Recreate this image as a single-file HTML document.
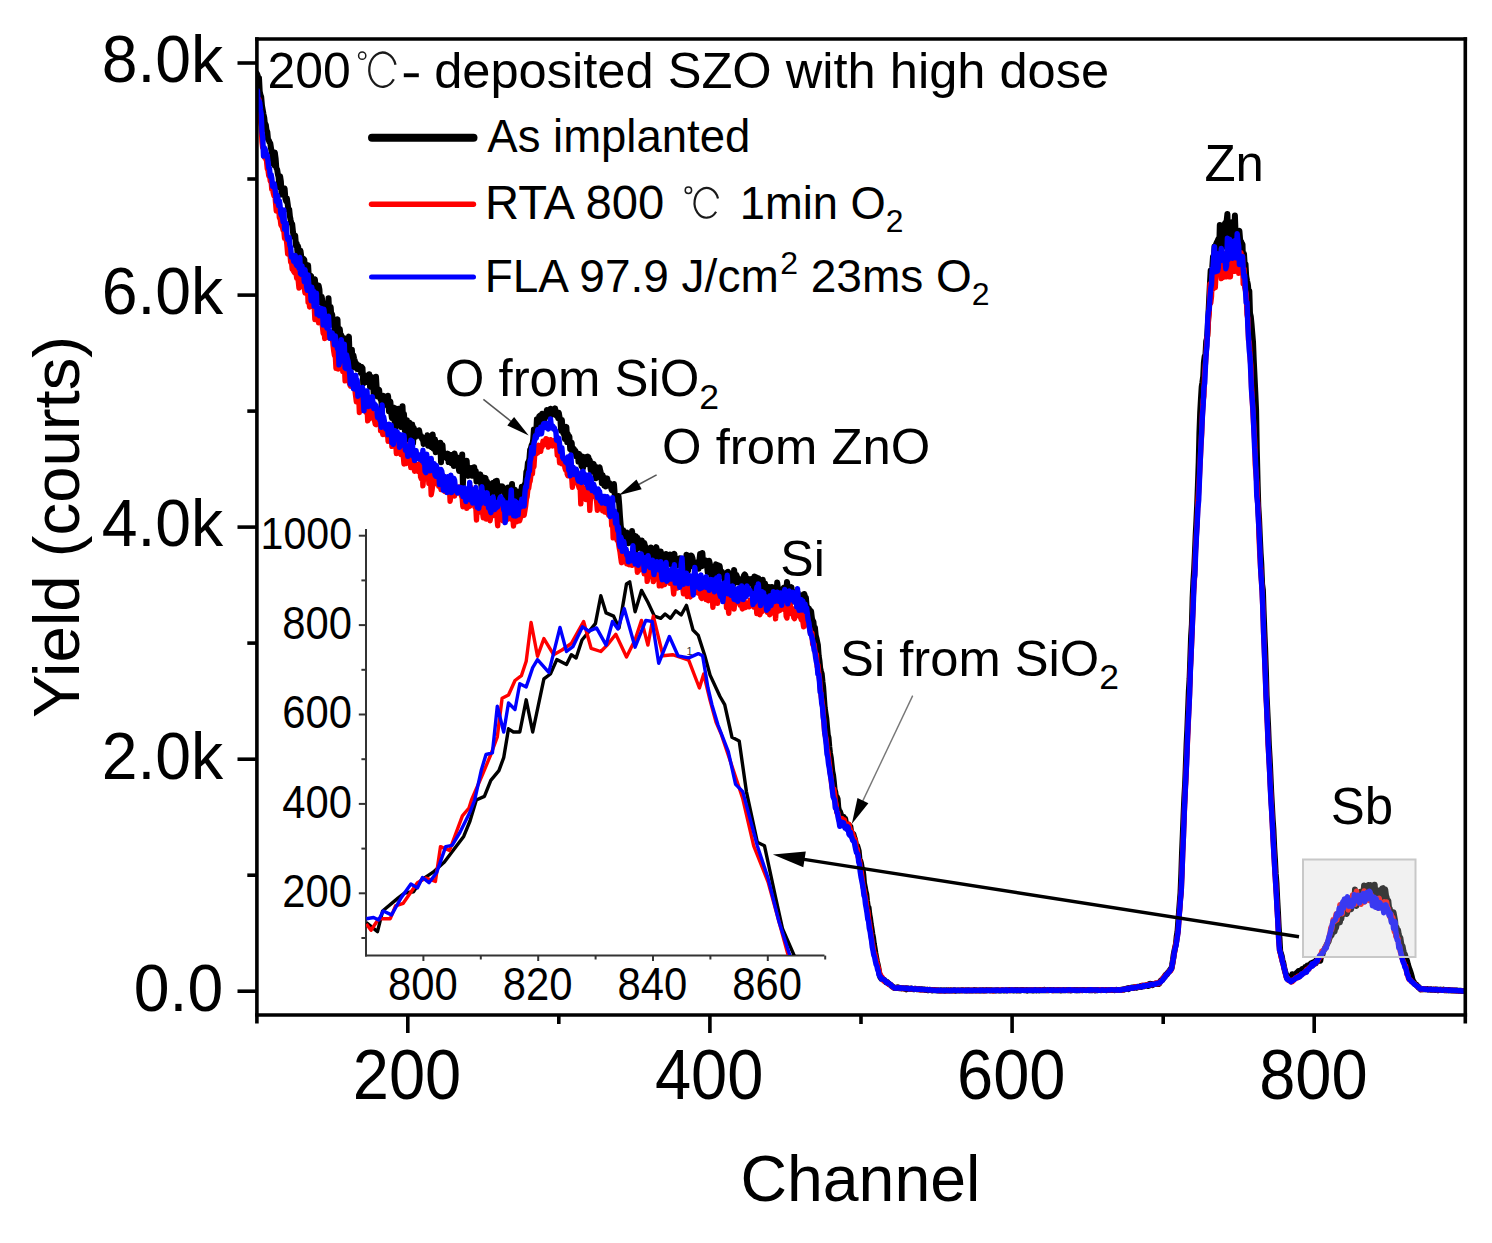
<!DOCTYPE html>
<html><head><meta charset="utf-8"><title>RBS spectra</title>
<style>html,body{margin:0;padding:0;background:#fff;} body{width:1492px;height:1243px;overflow:hidden;font-family:"Liberation Sans", sans-serif;}</style>
</head><body>
<svg width="1492" height="1243" viewBox="0 0 1492 1243" font-family="Liberation Sans" style="display:block"><rect width="1492" height="1243" fill="#fff"/><defs><clipPath id="cp"><rect x="257" y="40" width="1207" height="973"/></clipPath><clipPath id="cpi"><rect x="366" y="520" width="460" height="435"/></clipPath></defs><g clip-path="url(#cp)" fill="none" stroke-linejoin="round" stroke-linecap="round"><polyline points="256.7,73.3 257.5,75.0 258.2,78.3 259.0,77.8 259.7,91.4 260.5,95.1 261.2,96.9 262.0,105.9 262.7,109.8 263.5,114.3 264.3,118.0 265.0,124.7 265.8,124.6 266.5,130.0 267.3,131.9 268.0,139.3 268.8,140.3 269.5,142.2 270.3,143.4 271.1,148.7 271.8,152.9 272.6,154.9 273.3,163.7 274.1,165.1 274.8,152.5 275.6,158.3 276.3,167.8 277.1,169.3 277.9,174.4 278.6,176.9 279.4,187.3 280.1,176.3 280.9,181.8 281.6,194.5 282.4,191.0 283.1,193.6 283.9,191.0 284.6,188.5 285.4,198.8 286.2,201.2 286.9,198.5 287.7,204.1 288.4,210.0 289.2,209.4 289.9,216.3 290.7,220.4 291.4,223.3 292.2,224.1 293.0,232.2 293.7,236.8 294.5,237.4 295.2,235.5 296.0,245.7 296.7,243.3 297.5,252.8 298.2,246.6 299.0,257.5 299.8,254.9 300.5,250.8 301.3,256.9 302.0,260.3 302.8,263.1 303.5,258.7 304.3,259.8 305.0,267.8 305.8,266.2 306.6,271.4 307.3,275.8 308.1,265.3 308.8,276.6 309.6,283.3 310.3,277.1 311.1,275.9 311.8,285.5 312.6,284.3 313.4,289.2 314.1,284.0 314.9,279.3 315.6,288.2 316.4,287.8 317.1,296.0 317.9,294.2 318.6,285.4 319.4,289.3 320.2,302.5 320.9,302.8 321.7,296.7 322.4,301.7 323.2,305.6 323.9,307.0 324.7,310.8 325.4,308.4 326.2,307.6 326.9,307.9 327.7,317.2 328.5,298.2 329.2,312.4 330.0,314.8 330.7,307.0 331.5,319.2 332.2,314.4 333.0,325.1 333.7,320.3 334.5,326.5 335.3,331.5 336.0,327.9 336.8,321.7 337.5,319.3 338.3,340.9 339.0,331.0 339.8,329.1 340.5,335.7 341.3,335.2 342.1,343.1 342.8,339.7 343.6,341.1 344.3,338.2 345.1,347.0 345.8,339.4 346.6,351.2 347.3,357.8 348.1,340.8 348.9,336.6 349.6,356.7 350.4,369.7 351.1,349.8 351.9,349.8 352.6,362.3 353.4,355.2 354.1,358.6 354.9,361.0 355.7,367.7 356.4,363.6 357.2,369.1 357.9,367.9 358.7,365.4 359.4,369.5 360.2,366.5 360.9,373.0 361.7,367.0 362.5,368.0 363.2,383.8 364.0,375.6 364.7,376.4 365.5,380.4 366.2,375.7 367.0,377.6 367.7,382.2 368.5,382.1 369.3,374.3 370.0,386.8 370.8,379.2 371.5,377.2 372.3,379.0 373.0,383.0 373.8,395.9 374.5,380.5 375.3,389.3 376.0,376.8 376.8,390.3 377.6,396.6 378.3,391.0 379.1,389.7 379.8,395.7 380.6,399.4 381.3,400.2 382.1,408.8 382.8,399.6 383.6,395.9 384.4,399.7 385.1,401.0 385.9,403.0 386.6,403.2 387.4,405.4 388.1,395.8 388.9,411.2 389.6,404.1 390.4,401.7 391.2,413.1 391.9,418.0 392.7,414.3 393.4,413.2 394.2,407.7 394.9,430.3 395.7,419.6 396.4,408.8 397.2,411.7 398.0,417.4 398.7,408.8 399.5,419.5 400.2,416.7 401.0,427.0 401.7,426.3 402.5,406.2 403.2,422.6 404.0,414.0 404.8,430.3 405.5,425.7 406.3,428.6 407.0,420.3 407.8,437.4 408.5,439.3 409.3,422.6 410.0,431.5 410.8,426.4 411.6,430.8 412.3,424.6 413.1,443.1 413.8,427.8 414.6,432.1 415.3,437.1 416.1,431.1 416.8,433.9 417.6,432.6 418.4,435.5 419.1,430.2 419.9,434.8 420.6,436.6 421.4,436.4 422.1,439.1 422.9,437.6 423.6,444.0 424.4,438.5 425.1,440.0 425.9,437.5 426.7,438.8 427.4,435.2 428.2,445.7 428.9,436.9 429.7,439.6 430.4,446.3 431.2,447.0 431.9,443.0 432.7,434.5 433.5,448.6 434.2,448.2 435.0,439.4 435.7,452.2 436.5,444.6 437.2,442.9 438.0,450.3 438.7,449.4 439.5,452.1 440.3,442.7 441.0,462.2 441.8,449.5 442.5,444.9 443.3,457.5 444.0,452.7 444.8,457.1 445.5,454.0 446.3,456.2 447.1,458.5 447.8,453.6 448.6,462.1 449.3,456.4 450.1,454.8 450.8,460.6 451.6,463.3 452.3,460.2 453.1,457.3 453.9,466.1 454.6,453.6 455.4,458.2 456.1,464.6 456.9,457.3 457.6,465.4 458.4,465.4 459.1,471.0 459.9,461.5 460.7,463.5 461.4,469.2 462.2,454.4 462.9,485.2 463.7,464.9 464.4,465.2 465.2,474.2 465.9,469.8 466.7,460.7 467.4,474.3 468.2,475.9 469.0,469.3 469.7,470.6 470.5,475.2 471.2,468.1 472.0,475.8 472.7,475.0 473.5,470.7 474.2,467.2 475.0,474.0 475.8,470.9 476.5,481.5 477.3,477.4 478.0,481.3 478.8,478.3 479.5,479.5 480.3,474.4 481.0,482.7 481.8,489.2 482.6,478.4 483.3,477.4 484.1,480.3 484.8,479.0 485.6,478.3 486.3,483.4 487.1,481.6 487.8,491.4 488.6,484.1 489.4,486.4 490.1,490.2 490.9,484.0 491.6,493.8 492.4,483.3 493.1,482.8 493.9,485.7 494.6,487.5 495.4,481.2 496.2,489.0 496.9,480.8 497.7,497.5 498.4,490.0 499.2,487.3 499.9,486.2 500.7,489.3 501.4,490.5 502.2,486.4 503.0,487.4 503.7,491.6 504.5,490.2 505.2,498.3 506.0,499.6 506.7,494.0 507.5,496.7 508.2,487.4 509.0,498.2 509.8,495.0 510.5,498.1 511.3,504.3 512.0,484.0 512.8,497.8 513.5,490.9 514.3,500.1 515.0,489.7 515.8,493.9 516.5,497.2 517.3,498.8 518.1,496.0 518.8,491.9 519.6,492.8 520.3,498.3 521.1,493.9 521.8,486.8 522.6,495.4 523.3,493.1 524.1,493.1 524.9,484.1 525.6,482.4 526.4,471.4 527.1,471.3 527.9,462.8 528.6,461.8 529.4,459.1 530.1,449.9 530.9,448.3 531.7,444.8 532.4,444.7 533.2,439.4 533.9,429.4 534.7,431.1 535.4,429.7 536.2,432.8 536.9,419.2 537.7,421.6 538.5,426.4 539.2,416.4 540.0,415.6 540.7,419.9 541.5,420.2 542.2,413.7 543.0,417.2 543.7,415.3 544.5,419.4 545.3,414.0 546.0,416.8 546.8,410.1 547.5,412.0 548.3,411.9 549.0,415.4 549.8,413.2 550.5,408.7 551.3,413.9 552.1,414.7 552.8,412.2 553.6,412.2 554.3,412.9 555.1,408.4 555.8,415.0 556.6,415.7 557.3,412.5 558.1,418.2 558.8,412.8 559.6,417.6 560.4,419.9 561.1,430.5 561.9,419.9 562.6,429.9 563.4,433.6 564.1,433.6 564.9,439.1 565.6,431.4 566.4,426.9 567.2,442.0 567.9,434.1 568.7,439.5 569.4,436.5 570.2,449.2 570.9,449.6 571.7,442.7 572.4,452.3 573.2,449.4 574.0,449.1 574.7,451.2 575.5,451.0 576.2,456.3 577.0,455.8 577.7,453.5 578.5,461.6 579.2,454.1 580.0,459.1 580.8,460.2 581.5,466.1 582.3,456.4 583.0,468.3 583.8,460.8 584.5,459.3 585.3,457.3 586.0,464.2 586.8,461.9 587.6,456.6 588.3,456.9 589.1,460.3 589.8,460.2 590.6,469.6 591.3,471.6 592.1,469.5 592.8,467.4 593.6,463.9 594.4,466.8 595.1,471.5 595.9,478.3 596.6,472.6 597.4,467.4 598.1,469.8 598.9,468.1 599.6,467.5 600.4,471.3 601.2,474.1 601.9,483.3 602.7,475.2 603.4,482.6 604.2,485.5 604.9,477.9 605.7,486.5 606.4,483.0 607.2,478.5 607.9,483.2 608.7,483.2 609.5,483.1 610.2,484.5 611.0,487.4 611.7,490.1 612.5,484.8 613.2,490.3 614.0,484.1 614.7,494.1 615.5,497.2 616.3,496.1 617.0,498.0 617.8,500.7 618.5,496.0 619.3,505.6 620.0,516.7 620.8,526.4 621.5,529.1 622.3,540.4 623.1,529.9 623.8,536.3 624.6,539.0 625.3,534.3 626.1,532.9 626.8,532.6 627.6,538.8 628.3,543.3 629.1,540.1 629.9,540.0 630.6,538.0 631.4,542.5 632.1,531.1 632.9,541.8 633.6,541.3 634.4,535.6 635.1,551.3 635.9,536.3 636.7,538.0 637.4,537.8 638.2,548.2 638.9,539.9 639.7,547.0 640.4,547.1 641.2,546.4 641.9,540.5 642.7,544.3 643.5,554.9 644.2,542.9 645.0,545.7 645.7,549.4 646.5,554.3 647.2,552.7 648.0,555.6 648.7,548.6 649.5,558.0 650.3,556.6 651.0,547.6 651.8,561.1 652.5,564.5 653.3,551.7 654.0,555.4 654.8,561.3 655.5,549.2 656.3,547.2 657.0,550.3 657.8,553.6 658.6,553.8 659.3,559.0 660.1,557.8 660.8,551.5 661.6,559.4 662.3,565.2 663.1,562.5 663.8,561.8 664.6,557.8 665.4,562.1 666.1,554.0 666.9,561.5 667.6,558.1 668.4,563.5 669.1,560.8 669.9,554.4 670.6,559.8 671.4,564.6 672.2,554.8 672.9,557.4 673.7,556.7 674.4,553.8 675.2,564.4 675.9,566.1 676.7,564.1 677.4,561.9 678.2,560.9 679.0,562.3 679.7,558.3 680.5,565.4 681.2,566.2 682.0,565.8 682.7,559.8 683.5,562.5 684.2,561.6 685.0,570.1 685.8,563.4 686.5,554.8 687.3,564.6 688.0,571.1 688.8,566.2 689.5,567.1 690.3,563.7 691.0,555.4 691.8,556.2 692.6,558.7 693.3,563.6 694.1,565.6 694.8,567.4 695.6,563.2 696.3,568.8 697.1,563.7 697.8,562.1 698.6,568.8 699.3,561.5 700.1,554.0 700.9,561.2 701.6,566.2 702.4,553.0 703.1,564.6 703.9,564.9 704.6,560.4 705.4,560.3 706.1,564.8 706.9,564.6 707.7,572.3 708.4,568.8 709.2,560.8 709.9,564.2 710.7,571.1 711.4,576.4 712.2,570.4 712.9,570.4 713.7,577.2 714.5,569.6 715.2,568.7 716.0,564.4 716.7,568.5 717.5,580.1 718.2,565.3 719.0,571.6 719.7,566.0 720.5,572.7 721.3,576.2 722.0,571.8 722.8,576.2 723.5,576.5 724.3,575.6 725.0,581.3 725.8,577.7 726.5,573.5 727.3,572.2 728.1,571.8 728.8,577.7 729.6,574.6 730.3,587.7 731.1,584.3 731.8,576.0 732.6,575.9 733.3,584.6 734.1,570.0 734.9,576.3 735.6,582.4 736.4,575.0 737.1,577.2 737.9,578.0 738.6,582.5 739.4,580.6 740.1,581.9 740.9,583.0 741.7,580.9 742.4,585.7 743.2,578.3 743.9,575.7 744.7,574.5 745.4,575.4 746.2,580.1 746.9,586.9 747.7,583.7 748.4,580.7 749.2,579.1 750.0,581.6 750.7,582.4 751.5,582.0 752.2,578.7 753.0,582.9 753.7,589.3 754.5,576.4 755.2,584.6 756.0,577.2 756.8,586.9 757.5,583.4 758.3,578.1 759.0,587.4 759.8,594.7 760.5,588.0 761.3,592.5 762.0,587.8 762.8,579.8 763.6,590.5 764.3,587.2 765.1,583.5 765.8,592.4 766.6,590.8 767.3,588.0 768.1,593.4 768.8,587.1 769.6,592.8 770.4,587.2 771.1,592.6 771.9,587.0 772.6,596.3 773.4,592.1 774.1,596.3 774.9,588.7 775.6,590.0 776.4,594.7 777.2,582.6 777.9,588.5 778.7,595.8 779.4,594.0 780.2,595.9 780.9,591.7 781.7,594.8 782.4,590.6 783.2,588.5 784.0,587.6 784.7,591.6 785.5,591.8 786.2,591.7 787.0,581.9 787.7,587.3 788.5,592.5 789.2,595.4 790.0,592.6 790.8,591.8 791.5,587.1 792.3,601.9 793.0,591.5 793.8,601.0 794.5,600.8 795.3,596.6 796.0,593.9 796.8,596.4 797.5,592.1 798.3,597.0 799.1,596.2 799.8,598.1 800.6,599.5 801.3,602.1 802.1,595.2 802.8,599.9 803.6,594.1 804.3,594.0 805.1,596.9 805.9,597.7 806.6,605.6 807.4,607.3 808.1,610.2 808.9,608.4 809.6,611.2 810.4,610.8 811.1,611.3 811.9,618.0 812.7,621.3 813.4,621.5 814.2,629.7 814.9,627.4 815.7,635.2 816.4,637.9 817.2,641.9 817.9,645.2 818.7,656.1 819.5,661.0 820.2,668.3 821.0,671.5 821.7,673.9 822.5,681.9 823.2,687.4 824.0,698.6 824.7,707.8 825.5,713.1 826.3,718.4 827.0,726.4 827.8,735.1 828.5,737.6 829.3,747.1 830.0,753.2 830.8,757.7 831.5,764.0 832.3,771.3 833.1,775.3 833.8,781.4 834.6,789.7 835.3,792.1 836.1,798.4 836.8,796.8 837.6,798.8 838.3,807.4 839.1,810.9 839.8,811.3 840.6,813.5 841.4,818.3 842.1,816.0 842.9,819.3 843.6,816.9 844.4,821.1 845.1,818.6 845.9,822.8 846.6,826.7 847.4,824.3 848.2,827.0 848.9,825.3 849.7,826.0 850.4,826.7 851.2,832.8 851.9,832.6 852.7,837.1 853.4,834.1 854.2,837.4 855.0,839.6 855.7,843.6 856.5,846.3 857.2,845.8 858.0,848.5 858.7,851.1 859.5,859.5 860.2,860.7 861.0,863.4 861.8,868.2 862.5,869.0 863.3,874.8 864.0,883.2 864.8,887.0 865.5,891.2 866.3,894.2 867.0,900.8 867.8,906.9 868.6,907.7 869.3,914.2 870.1,918.6 870.8,924.4 871.6,928.9 872.3,933.7 873.1,937.9 873.8,943.6 874.6,948.0 875.4,953.3 876.1,957.1 876.9,961.4 877.6,964.2 878.4,968.1 879.1,972.7 879.9,975.7 880.6,977.6 881.4,978.7 882.2,979.0 882.9,979.4 883.7,980.1 884.4,980.0 885.2,981.3 885.9,982.2 886.7,982.5 887.4,982.2 888.2,983.5 888.9,983.6 889.7,984.4 890.5,985.1 891.2,985.2 892.0,986.6 892.7,986.7 893.5,987.5 894.2,987.9 895.0,988.1 895.7,988.1 896.5,987.5 897.3,987.9 898.0,987.4 898.8,987.9 899.5,988.2 900.3,988.3 901.0,988.4 901.8,988.1 902.5,988.3 903.3,988.3 904.1,988.6 904.8,988.7 905.6,988.3 906.3,989.3 907.1,988.5 907.8,988.5 908.6,988.7 909.3,988.8 910.1,988.8 910.9,988.6 911.6,989.1 912.4,988.8 913.1,989.2 913.9,989.2 914.6,988.7 915.4,988.8 916.1,988.9 916.9,989.2 917.7,989.2 918.4,989.3 919.2,989.1 919.9,989.4 920.7,989.6 921.4,989.2 922.2,989.4 922.9,989.5 923.7,989.5 924.5,989.6 925.2,989.9 926.0,989.9 926.7,989.9 927.5,989.7 928.2,990.2 929.0,989.9 929.7,989.8 930.5,989.9 931.2,989.9 932.0,990.4 932.8,990.1 933.5,990.2 934.3,989.9 935.0,990.3 935.8,990.2 936.5,990.2 937.3,990.5 938.0,990.3 938.8,990.6 939.6,990.6 940.3,990.3 941.1,990.5 941.8,990.3 942.6,990.5 943.3,990.6 944.1,990.3 944.8,990.7 945.6,990.4 946.4,990.3 947.1,990.5 947.9,990.6 948.6,990.3 949.4,990.5 950.1,990.3 950.9,990.6 951.6,990.5 952.4,990.4 953.2,990.6 953.9,990.3 954.7,990.4 955.4,990.7 956.2,990.4 956.9,990.6 957.7,990.5 958.4,990.4 959.2,990.4 960.0,990.4 960.7,990.4 961.5,990.3 962.2,990.3 963.0,990.3 963.7,990.4 964.5,990.5 965.2,990.5 966.0,990.2 966.8,990.5 967.5,990.4 968.3,990.2 969.0,990.4 969.8,990.5 970.5,990.5 971.3,990.5 972.0,990.5 972.8,990.5 973.6,990.4 974.3,990.1 975.1,990.3 975.8,990.4 976.6,990.3 977.3,990.5 978.1,990.5 978.8,990.4 979.6,990.6 980.3,990.3 981.1,990.5 981.9,990.3 982.6,990.3 983.4,990.4 984.1,990.3 984.9,990.5 985.6,990.2 986.4,990.4 987.1,990.3 987.9,990.3 988.7,990.3 989.4,990.2 990.2,990.4 990.9,990.2 991.7,990.2 992.4,990.5 993.2,990.5 993.9,990.4 994.7,990.4 995.5,990.6 996.2,990.2 997.0,990.2 997.7,990.2 998.5,990.4 999.2,990.4 1000.0,990.5 1000.7,990.5 1001.5,990.3 1002.3,990.2 1003.0,990.2 1003.8,990.6 1004.5,990.4 1005.3,990.4 1006.0,990.3 1006.8,990.3 1007.5,990.3 1008.3,990.3 1009.1,990.0 1009.8,990.3 1010.6,990.3 1011.3,990.3 1012.1,990.3 1012.8,990.4 1013.6,990.3 1014.3,990.4 1015.1,990.0 1015.9,990.1 1016.6,990.5 1017.4,990.1 1018.1,990.2 1018.9,990.4 1019.6,990.2 1020.4,990.4 1021.1,990.1 1021.9,990.0 1022.7,990.1 1023.4,990.0 1024.2,990.3 1024.9,990.2 1025.7,990.3 1026.4,990.1 1027.2,990.6 1027.9,990.2 1028.7,990.2 1029.4,990.3 1030.2,990.2 1031.0,990.2 1031.7,990.3 1032.5,990.4 1033.2,990.3 1034.0,990.4 1034.7,990.2 1035.5,990.1 1036.2,990.5 1037.0,990.2 1037.8,990.3 1038.5,990.3 1039.3,990.4 1040.0,990.0 1040.8,990.2 1041.5,990.2 1042.3,990.2 1043.0,989.9 1043.8,990.2 1044.6,989.8 1045.3,990.2 1046.1,990.3 1046.8,990.3 1047.6,990.0 1048.3,990.3 1049.1,990.1 1049.8,990.0 1050.6,990.1 1051.4,990.1 1052.1,990.2 1052.9,990.3 1053.6,989.9 1054.4,990.1 1055.1,990.3 1055.9,990.2 1056.6,990.2 1057.4,990.0 1058.2,990.3 1058.9,990.0 1059.7,990.2 1060.4,990.4 1061.2,990.4 1061.9,990.2 1062.7,990.3 1063.4,990.1 1064.2,990.1 1065.0,990.3 1065.7,990.2 1066.5,990.1 1067.2,989.9 1068.0,990.2 1068.7,990.2 1069.5,990.0 1070.2,990.1 1071.0,990.4 1071.7,990.2 1072.5,990.1 1073.3,990.0 1074.0,990.0 1074.8,990.1 1075.5,990.3 1076.3,990.0 1077.0,990.4 1077.8,990.0 1078.5,990.1 1079.3,990.2 1080.1,990.1 1080.8,990.0 1081.6,990.1 1082.3,990.2 1083.1,989.9 1083.8,990.1 1084.6,990.1 1085.3,990.0 1086.1,990.2 1086.9,990.0 1087.6,990.0 1088.4,990.1 1089.1,990.2 1089.9,990.1 1090.6,990.3 1091.4,989.9 1092.1,990.3 1092.9,990.0 1093.7,990.0 1094.4,990.1 1095.2,990.4 1095.9,990.2 1096.7,990.0 1097.4,990.3 1098.2,990.0 1098.9,989.9 1099.7,990.1 1100.5,990.1 1101.2,990.2 1102.0,990.0 1102.7,990.1 1103.5,990.1 1104.2,990.1 1105.0,990.0 1105.7,989.9 1106.5,990.2 1107.3,990.1 1108.0,990.1 1108.8,990.0 1109.5,990.0 1110.3,989.9 1111.0,990.0 1111.8,990.1 1112.5,990.0 1113.3,990.1 1114.1,990.1 1114.8,990.2 1115.6,990.0 1116.3,989.8 1117.1,990.1 1117.8,990.0 1118.6,989.9 1119.3,990.1 1120.1,990.0 1120.8,989.9 1121.6,989.7 1122.4,989.6 1123.1,989.5 1123.9,989.7 1124.6,989.1 1125.4,989.1 1126.1,989.0 1126.9,988.5 1127.6,988.3 1128.4,989.0 1129.2,988.0 1129.9,988.4 1130.7,988.0 1131.4,987.9 1132.2,987.4 1132.9,987.6 1133.7,987.9 1134.4,987.2 1135.2,987.6 1136.0,987.4 1136.7,987.7 1137.5,986.9 1138.2,987.2 1139.0,987.0 1139.7,986.5 1140.5,986.0 1141.2,986.8 1142.0,985.8 1142.8,986.0 1143.5,986.3 1144.3,986.2 1145.0,985.5 1145.8,985.6 1146.5,985.4 1147.3,985.7 1148.0,986.0 1148.8,984.5 1149.6,985.3 1150.3,983.8 1151.1,984.7 1151.8,984.2 1152.6,985.1 1153.3,984.4 1154.1,983.9 1154.8,983.9 1155.6,983.7 1156.4,983.9 1157.1,983.6 1157.9,983.8 1158.6,984.0 1159.4,983.4 1160.1,981.7 1160.9,980.6 1161.6,980.0 1162.4,980.0 1163.2,978.4 1163.9,977.3 1164.7,976.8 1165.4,975.1 1166.2,974.3 1166.9,974.4 1167.7,973.0 1168.4,972.0 1169.2,971.5 1169.9,970.1 1170.7,969.1 1171.5,968.4 1172.2,964.8 1173.0,960.0 1173.7,954.5 1174.5,950.7 1175.2,947.1 1176.0,943.8 1176.7,936.4 1177.5,931.9 1178.3,921.2 1179.0,912.3 1179.8,901.7 1180.5,893.0 1181.3,873.7 1182.0,853.1 1182.8,834.1 1183.5,816.7 1184.3,797.8 1185.1,784.4 1185.8,766.2 1186.6,743.5 1187.3,729.9 1188.1,709.3 1188.8,691.6 1189.6,678.5 1190.3,659.1 1191.1,636.1 1191.9,624.1 1192.6,598.2 1193.4,581.0 1194.1,570.3 1194.9,553.3 1195.6,536.5 1196.4,521.0 1197.1,506.1 1197.9,485.4 1198.7,462.2 1199.4,433.5 1200.2,412.1 1200.9,399.6 1201.7,386.7 1202.4,382.5 1203.2,376.4 1203.9,362.5 1204.7,356.2 1205.5,354.5 1206.2,341.2 1207.0,338.2 1207.7,327.9 1208.5,313.4 1209.2,297.8 1210.0,282.3 1210.7,270.5 1211.5,274.7 1212.2,268.0 1213.0,256.7 1213.8,260.7 1214.5,246.4 1215.3,255.7 1216.0,244.3 1216.8,242.3 1217.5,241.2 1218.3,239.1 1219.0,257.1 1219.8,225.1 1220.6,237.1 1221.3,244.2 1222.1,239.8 1222.8,231.8 1223.6,246.7 1224.3,225.3 1225.1,223.1 1225.8,236.8 1226.6,221.2 1227.4,213.9 1228.1,238.0 1228.9,236.7 1229.6,236.1 1230.4,226.6 1231.1,231.2 1231.9,222.2 1232.6,242.1 1233.4,235.2 1234.2,235.2 1234.9,215.4 1235.7,236.5 1236.4,242.0 1237.2,240.3 1237.9,237.4 1238.7,231.8 1239.4,230.9 1240.2,240.5 1241.0,241.4 1241.7,242.8 1242.5,244.3 1243.2,266.4 1244.0,253.8 1244.7,264.6 1245.5,264.0 1246.2,276.1 1247.0,280.6 1247.8,284.1 1248.5,290.6 1249.3,290.9 1250.0,313.1 1250.8,316.7 1251.5,323.7 1252.3,333.4 1253.0,341.7 1253.8,361.2 1254.6,377.6 1255.3,392.2 1256.1,410.5 1256.8,449.6 1257.6,482.0 1258.3,506.1 1259.1,519.2 1259.8,536.1 1260.6,552.8 1261.3,563.7 1262.1,584.1 1262.9,589.9 1263.6,611.1 1264.4,631.6 1265.1,647.3 1265.9,670.4 1266.6,695.3 1267.4,711.9 1268.1,725.7 1268.9,745.7 1269.7,758.9 1270.4,773.9 1271.2,791.8 1271.9,804.6 1272.7,819.7 1273.4,829.2 1274.2,846.9 1274.9,858.0 1275.7,873.5 1276.5,883.5 1277.2,898.6 1278.0,912.7 1278.7,927.1 1279.5,938.5 1280.2,951.4 1281.0,953.6 1281.7,955.9 1282.5,960.4 1283.3,962.7 1284.0,966.6 1284.8,970.5 1285.5,972.6 1286.3,975.1 1287.0,978.2 1287.8,978.3 1288.5,977.7 1289.3,976.8 1290.1,976.5 1290.8,976.8 1291.6,977.3 1292.3,974.2 1293.1,975.7 1293.8,974.8 1294.6,974.9 1295.3,974.6 1296.1,973.7 1296.9,972.7 1297.6,972.0 1298.4,971.2 1299.1,972.6 1299.9,971.3 1300.6,970.6 1301.4,970.3 1302.1,969.1 1302.9,969.7 1303.6,969.9 1304.4,969.3 1305.2,967.1 1305.9,968.5 1306.7,966.6 1307.4,965.4 1308.2,965.4 1308.9,965.1 1309.7,965.2 1310.4,964.1 1311.2,963.2 1312.0,963.6 1312.7,964.7 1313.5,962.4 1314.2,962.8 1315.0,962.0 1315.7,963.4 1316.5,959.6 1317.2,961.3 1318.0,959.1 1318.8,959.1 1319.5,959.0 1320.3,960.7 1321.0,956.0 1321.8,953.5 1322.5,954.6 1323.3,951.2 1324.0,950.1 1324.8,948.7 1325.6,947.2 1326.3,945.4 1327.1,944.2 1327.8,942.7 1328.6,941.6 1329.3,938.8 1330.1,936.8 1330.8,934.8 1331.6,935.1 1332.4,932.8 1333.1,932.0 1333.9,930.6 1334.6,931.4 1335.4,927.8 1336.1,927.8 1336.9,922.8 1337.6,921.8 1338.4,922.2 1339.2,918.9 1339.9,922.4 1340.7,916.1 1341.4,918.6 1342.2,910.3 1342.9,912.8 1343.7,914.0 1344.4,913.1 1345.2,906.9 1346.0,912.1 1346.7,913.9 1347.5,911.7 1348.2,906.2 1349.0,905.3 1349.7,902.1 1350.5,907.3 1351.2,909.1 1352.0,901.1 1352.7,895.8 1353.5,901.4 1354.3,902.3 1355.0,889.5 1355.8,899.2 1356.5,905.9 1357.3,900.5 1358.0,899.0 1358.8,897.9 1359.5,899.8 1360.3,891.9 1361.1,891.6 1361.8,895.7 1362.6,891.1 1363.3,894.0 1364.1,885.4 1364.8,894.8 1365.6,894.6 1366.3,891.0 1367.1,890.9 1367.9,895.8 1368.6,885.0 1369.4,885.7 1370.1,885.2 1370.9,887.9 1371.6,885.9 1372.4,890.1 1373.1,887.7 1373.9,884.9 1374.7,884.7 1375.4,895.3 1376.2,890.7 1376.9,890.3 1377.7,891.4 1378.4,891.2 1379.2,894.6 1379.9,894.0 1380.7,889.9 1381.5,889.3 1382.2,888.5 1383.0,888.1 1383.7,898.4 1384.5,891.6 1385.2,889.3 1386.0,895.4 1386.7,897.4 1387.5,903.2 1388.3,900.6 1389.0,907.4 1389.8,908.6 1390.5,913.3 1391.3,918.1 1392.0,922.0 1392.8,918.8 1393.5,912.3 1394.3,916.6 1395.1,920.8 1395.8,928.9 1396.6,927.2 1397.3,931.2 1398.1,930.1 1398.8,934.6 1399.6,937.5 1400.3,937.5 1401.1,942.7 1401.8,945.7 1402.6,946.2 1403.4,950.7 1404.1,954.1 1404.9,954.4 1405.6,957.0 1406.4,959.2 1407.1,961.3 1407.9,964.5 1408.6,966.6 1409.4,969.1 1410.2,971.3 1410.9,973.4 1411.7,976.2 1412.4,979.3 1413.2,981.1 1413.9,982.2 1414.7,983.8 1415.4,984.3 1416.2,984.4 1417.0,985.6 1417.7,986.0 1418.5,987.4 1419.2,987.5 1420.0,988.4 1420.7,989.3 1421.5,988.9 1422.2,989.3 1423.0,988.9 1423.8,989.2 1424.5,989.1 1425.3,989.2 1426.0,989.3 1426.8,989.3 1427.5,989.1 1428.3,989.5 1429.0,989.5 1429.8,989.6 1430.6,989.7 1431.3,989.2 1432.1,989.7 1432.8,989.8 1433.6,989.5 1434.3,989.8 1435.1,989.9 1435.8,989.6 1436.6,989.5 1437.4,989.7 1438.1,990.2 1438.9,989.9 1439.6,989.7 1440.4,989.9 1441.1,989.8 1441.9,989.9 1442.6,990.0 1443.4,989.6 1444.1,990.1 1444.9,990.3 1445.7,990.1 1446.4,990.1 1447.2,990.3 1447.9,990.1 1448.7,990.1 1449.4,990.1 1450.2,990.3 1450.9,990.4 1451.7,990.4 1452.5,990.5 1453.2,990.6 1454.0,990.6 1454.7,990.4 1455.5,990.5 1456.2,990.7 1457.0,990.5 1457.7,990.6 1458.5,990.7 1459.3,990.7 1460.0,990.7 1460.8,990.7 1461.5,991.1 1462.3,991.0 1463.0,990.9 1463.8,990.9 1464.5,991.0 1465.3,991.0" stroke="#000" stroke-width="6"/><polyline points="256.7,105.8 257.5,103.4 258.2,105.3 259.0,99.5 259.7,116.6 260.5,120.7 261.2,126.6 262.0,141.9 262.7,147.8 263.5,148.1 264.3,157.2 265.0,155.8 265.8,159.1 266.5,160.7 267.3,168.8 268.0,170.1 268.8,176.0 269.5,174.9 270.3,181.2 271.1,180.0 271.8,189.5 272.6,189.7 273.3,193.0 274.1,196.1 274.8,193.3 275.6,203.2 276.3,211.1 277.1,199.0 277.9,201.3 278.6,205.2 279.4,217.8 280.1,217.9 280.9,224.7 281.6,226.1 282.4,226.9 283.1,230.1 283.9,231.2 284.6,238.4 285.4,232.9 286.2,238.8 286.9,244.5 287.7,254.0 288.4,246.0 289.2,247.5 289.9,252.7 290.7,262.2 291.4,259.9 292.2,269.2 293.0,256.8 293.7,271.5 294.5,272.6 295.2,263.3 296.0,271.9 296.7,278.2 297.5,274.7 298.2,280.3 299.0,288.1 299.8,280.2 300.5,279.2 301.3,278.5 302.0,286.6 302.8,284.2 303.5,285.9 304.3,287.8 305.0,293.0 305.8,286.1 306.6,285.3 307.3,282.2 308.1,302.1 308.8,298.0 309.6,307.0 310.3,300.6 311.1,298.3 311.8,306.3 312.6,304.8 313.4,300.0 314.1,303.5 314.9,319.6 315.6,313.4 316.4,315.3 317.1,312.9 317.9,312.0 318.6,322.7 319.4,318.4 320.2,316.1 320.9,321.3 321.7,318.2 322.4,326.3 323.2,333.5 323.9,323.1 324.7,338.6 325.4,327.1 326.2,333.8 326.9,329.0 327.7,334.4 328.5,337.7 329.2,336.1 330.0,335.9 330.7,337.6 331.5,338.2 332.2,334.8 333.0,344.9 333.7,350.7 334.5,355.5 335.3,355.2 336.0,368.4 336.8,356.1 337.5,352.5 338.3,369.0 339.0,351.7 339.8,366.1 340.5,355.2 341.3,365.1 342.1,351.7 342.8,371.5 343.6,366.2 344.3,362.6 345.1,380.9 345.8,376.5 346.6,373.5 347.3,370.1 348.1,376.1 348.9,376.9 349.6,384.1 350.4,386.1 351.1,378.4 351.9,380.7 352.6,382.4 353.4,378.9 354.1,385.2 354.9,389.9 355.7,396.4 356.4,401.9 357.2,390.1 357.9,400.2 358.7,395.6 359.4,412.5 360.2,400.2 360.9,404.6 361.7,396.7 362.5,398.4 363.2,405.7 364.0,403.0 364.7,408.6 365.5,397.7 366.2,412.4 367.0,403.7 367.7,420.9 368.5,409.5 369.3,419.0 370.0,404.6 370.8,416.8 371.5,409.7 372.3,413.1 373.0,417.1 373.8,415.9 374.5,420.4 375.3,424.2 376.0,424.6 376.8,420.9 377.6,414.1 378.3,418.4 379.1,423.0 379.8,412.2 380.6,430.6 381.3,425.4 382.1,426.3 382.8,434.5 383.6,433.7 384.4,431.8 385.1,425.4 385.9,434.2 386.6,435.3 387.4,428.8 388.1,441.3 388.9,439.0 389.6,425.0 390.4,438.5 391.2,431.0 391.9,446.4 392.7,445.3 393.4,434.7 394.2,436.8 394.9,443.5 395.7,442.3 396.4,453.6 397.2,449.7 398.0,444.4 398.7,450.4 399.5,435.6 400.2,450.4 401.0,454.5 401.7,449.1 402.5,446.7 403.2,455.1 404.0,464.1 404.8,454.5 405.5,447.5 406.3,463.5 407.0,444.6 407.8,459.5 408.5,453.9 409.3,463.6 410.0,453.9 410.8,467.5 411.6,462.2 412.3,451.1 413.1,450.5 413.8,461.0 414.6,471.3 415.3,465.2 416.1,465.7 416.8,464.7 417.6,471.2 418.4,469.9 419.1,470.1 419.9,463.5 420.6,477.0 421.4,478.8 422.1,464.0 422.9,485.8 423.6,477.4 424.4,471.0 425.1,463.3 425.9,478.7 426.7,478.6 427.4,472.4 428.2,465.9 428.9,483.3 429.7,473.9 430.4,475.1 431.2,494.7 431.9,491.1 432.7,484.8 433.5,477.1 434.2,484.0 435.0,467.6 435.7,481.8 436.5,477.3 437.2,474.8 438.0,473.6 438.7,486.2 439.5,484.2 440.3,485.1 441.0,489.5 441.8,480.3 442.5,478.5 443.3,475.9 444.0,484.7 444.8,491.5 445.5,486.7 446.3,491.8 447.1,481.8 447.8,486.4 448.6,485.2 449.3,482.9 450.1,501.2 450.8,495.9 451.6,487.2 452.3,487.7 453.1,492.2 453.9,484.8 454.6,496.0 455.4,486.6 456.1,492.3 456.9,489.0 457.6,492.5 458.4,488.0 459.1,487.1 459.9,490.9 460.7,493.0 461.4,495.6 462.2,498.0 462.9,506.7 463.7,503.0 464.4,497.4 465.2,503.4 465.9,495.7 466.7,508.3 467.4,503.6 468.2,493.2 469.0,505.5 469.7,506.3 470.5,486.9 471.2,498.2 472.0,500.2 472.7,492.4 473.5,497.7 474.2,498.7 475.0,507.3 475.8,506.6 476.5,520.1 477.3,503.5 478.0,512.6 478.8,507.0 479.5,508.4 480.3,500.8 481.0,497.0 481.8,503.8 482.6,512.8 483.3,517.8 484.1,512.7 484.8,512.5 485.6,505.4 486.3,519.1 487.1,518.5 487.8,508.4 488.6,511.5 489.4,506.6 490.1,520.7 490.9,514.9 491.6,512.2 492.4,515.1 493.1,515.4 493.9,510.7 494.6,506.2 495.4,506.0 496.2,503.6 496.9,516.0 497.7,525.9 498.4,504.1 499.2,514.5 499.9,516.1 500.7,508.4 501.4,515.1 502.2,508.0 503.0,520.9 503.7,511.0 504.5,514.9 505.2,518.3 506.0,512.2 506.7,504.7 507.5,511.8 508.2,519.1 509.0,514.5 509.8,516.3 510.5,509.1 511.3,516.0 512.0,519.4 512.8,515.6 513.5,526.1 514.3,514.4 515.0,509.9 515.8,507.1 516.5,521.8 517.3,515.7 518.1,520.8 518.8,516.9 519.6,520.8 520.3,518.2 521.1,510.9 521.8,513.1 522.6,515.6 523.3,507.1 524.1,515.2 524.9,510.5 525.6,506.1 526.4,498.9 527.1,496.7 527.9,488.8 528.6,488.7 529.4,483.0 530.1,481.3 530.9,475.1 531.7,474.1 532.4,473.8 533.2,462.9 533.9,466.7 534.7,454.4 535.4,450.7 536.2,453.9 536.9,452.4 537.7,452.8 538.5,445.2 539.2,449.2 540.0,448.8 540.7,451.3 541.5,446.0 542.2,447.0 543.0,441.2 543.7,442.7 544.5,440.8 545.3,444.2 546.0,438.7 546.8,439.0 547.5,443.3 548.3,447.1 549.0,442.4 549.8,442.0 550.5,439.7 551.3,444.2 552.1,442.2 552.8,445.9 553.6,442.8 554.3,440.6 555.1,443.7 555.8,444.3 556.6,445.4 557.3,455.3 558.1,455.8 558.8,451.2 559.6,462.7 560.4,459.9 561.1,457.9 561.9,463.8 562.6,463.5 563.4,462.0 564.1,458.3 564.9,467.7 565.6,470.1 566.4,458.2 567.2,474.0 567.9,475.7 568.7,471.5 569.4,475.8 570.2,475.0 570.9,473.2 571.7,477.1 572.4,487.3 573.2,472.8 574.0,482.6 574.7,483.0 575.5,478.9 576.2,481.1 577.0,476.6 577.7,480.2 578.5,485.6 579.2,487.9 580.0,482.1 580.8,503.9 581.5,485.2 582.3,489.6 583.0,488.4 583.8,488.2 584.5,497.9 585.3,489.1 586.0,499.5 586.8,499.1 587.6,488.2 588.3,499.9 589.1,491.7 589.8,510.3 590.6,494.5 591.3,492.2 592.1,487.8 592.8,491.7 593.6,496.2 594.4,494.7 595.1,494.2 595.9,497.7 596.6,500.9 597.4,510.4 598.1,494.4 598.9,501.2 599.6,499.7 600.4,497.4 601.2,499.3 601.9,501.8 602.7,510.9 603.4,506.7 604.2,505.5 604.9,512.1 605.7,511.0 606.4,509.0 607.2,512.7 607.9,507.0 608.7,515.2 609.5,514.9 610.2,511.0 611.0,508.9 611.7,525.4 612.5,520.3 613.2,537.9 614.0,521.1 614.7,531.1 615.5,526.9 616.3,533.6 617.0,540.3 617.8,535.7 618.5,543.0 619.3,548.1 620.0,551.6 620.8,557.8 621.5,562.7 622.3,562.2 623.1,559.6 623.8,556.8 624.6,553.1 625.3,555.6 626.1,557.1 626.8,563.9 627.6,558.8 628.3,554.5 629.1,564.8 629.9,557.7 630.6,558.2 631.4,561.3 632.1,565.3 632.9,550.4 633.6,557.5 634.4,564.6 635.1,562.1 635.9,559.7 636.7,561.7 637.4,572.2 638.2,562.7 638.9,569.2 639.7,569.9 640.4,563.7 641.2,569.0 641.9,565.0 642.7,564.8 643.5,562.7 644.2,573.9 645.0,567.9 645.7,567.7 646.5,565.4 647.2,581.4 648.0,576.5 648.7,572.6 649.5,570.3 650.3,566.3 651.0,576.1 651.8,576.4 652.5,567.9 653.3,581.6 654.0,579.9 654.8,571.2 655.5,573.7 656.3,574.7 657.0,578.0 657.8,576.8 658.6,569.3 659.3,585.8 660.1,580.2 660.8,585.4 661.6,585.7 662.3,578.4 663.1,581.6 663.8,584.0 664.6,584.5 665.4,580.0 666.1,577.9 666.9,581.6 667.6,577.6 668.4,579.2 669.1,572.0 669.9,583.2 670.6,577.8 671.4,580.6 672.2,583.5 672.9,585.7 673.7,594.1 674.4,585.8 675.2,577.8 675.9,586.1 676.7,582.7 677.4,588.1 678.2,582.9 679.0,583.1 679.7,584.2 680.5,583.8 681.2,577.8 682.0,583.9 682.7,587.4 683.5,593.8 684.2,586.2 685.0,586.0 685.8,591.0 686.5,591.0 687.3,596.5 688.0,591.5 688.8,588.5 689.5,595.6 690.3,596.8 691.0,586.6 691.8,590.0 692.6,580.8 693.3,587.7 694.1,585.2 694.8,588.7 695.6,587.5 696.3,589.3 697.1,589.7 697.8,592.9 698.6,591.7 699.3,587.8 700.1,584.3 700.9,597.3 701.6,598.4 702.4,589.0 703.1,594.3 703.9,583.8 704.6,583.8 705.4,590.5 706.1,599.6 706.9,586.9 707.7,588.1 708.4,600.7 709.2,583.1 709.9,596.3 710.7,595.7 711.4,592.4 712.2,594.6 712.9,607.3 713.7,588.4 714.5,592.8 715.2,593.4 716.0,591.4 716.7,588.3 717.5,603.4 718.2,596.7 719.0,586.9 719.7,592.5 720.5,598.3 721.3,598.6 722.0,589.5 722.8,596.5 723.5,598.6 724.3,599.5 725.0,599.7 725.8,588.7 726.5,607.5 727.3,599.5 728.1,607.8 728.8,613.4 729.6,598.3 730.3,593.1 731.1,604.0 731.8,598.9 732.6,597.8 733.3,595.1 734.1,609.1 734.9,598.6 735.6,594.0 736.4,599.0 737.1,595.7 737.9,602.6 738.6,599.8 739.4,596.7 740.1,605.2 740.9,599.0 741.7,606.0 742.4,608.9 743.2,600.8 743.9,599.5 744.7,603.9 745.4,607.5 746.2,603.1 746.9,604.0 747.7,603.2 748.4,605.1 749.2,606.8 750.0,600.2 750.7,601.4 751.5,604.2 752.2,600.8 753.0,604.9 753.7,607.0 754.5,604.4 755.2,601.6 756.0,600.8 756.8,613.6 757.5,609.4 758.3,599.5 759.0,601.0 759.8,614.7 760.5,613.0 761.3,606.2 762.0,611.5 762.8,598.4 763.6,606.0 764.3,609.8 765.1,596.9 765.8,602.4 766.6,610.4 767.3,612.2 768.1,603.6 768.8,608.1 769.6,614.7 770.4,604.8 771.1,600.0 771.9,606.4 772.6,604.8 773.4,613.3 774.1,607.6 774.9,602.8 775.6,618.9 776.4,604.4 777.2,609.3 777.9,610.4 778.7,610.9 779.4,607.9 780.2,610.1 780.9,607.1 781.7,600.7 782.4,607.0 783.2,607.5 784.0,607.9 784.7,609.8 785.5,606.4 786.2,616.4 787.0,618.0 787.7,599.5 788.5,610.9 789.2,607.6 790.0,598.5 790.8,613.6 791.5,608.7 792.3,610.1 793.0,608.9 793.8,617.7 794.5,618.6 795.3,614.0 796.0,616.2 796.8,612.4 797.5,614.2 798.3,610.6 799.1,615.2 799.8,612.2 800.6,617.6 801.3,619.6 802.1,617.1 802.8,620.8 803.6,626.9 804.3,606.7 805.1,615.4 805.9,613.3 806.6,616.7 807.4,616.6 808.1,624.5 808.9,626.5 809.6,628.3 810.4,632.5 811.1,634.5 811.9,632.9 812.7,644.4 813.4,643.6 814.2,644.7 814.9,651.4 815.7,653.6 816.4,654.5 817.2,666.7 817.9,665.0 818.7,673.2 819.5,678.6 820.2,687.9 821.0,694.9 821.7,699.8 822.5,705.1 823.2,713.3 824.0,724.0 824.7,732.9 825.5,736.5 826.3,739.7 827.0,749.0 827.8,751.8 828.5,757.5 829.3,763.5 830.0,771.0 830.8,776.1 831.5,783.3 832.3,788.3 833.1,790.6 833.8,788.9 834.6,793.9 835.3,801.2 836.1,804.6 836.8,812.5 837.6,812.2 838.3,815.8 839.1,819.9 839.8,820.7 840.6,819.0 841.4,820.9 842.1,818.6 842.9,819.5 843.6,824.0 844.4,819.9 845.1,824.6 845.9,824.8 846.6,825.6 847.4,826.4 848.2,827.3 848.9,824.1 849.7,827.6 850.4,829.8 851.2,833.9 851.9,831.9 852.7,834.2 853.4,836.3 854.2,840.6 855.0,839.3 855.7,842.9 856.5,849.7 857.2,848.8 858.0,856.2 858.7,858.5 859.5,860.3 860.2,866.6 861.0,870.3 861.8,876.6 862.5,881.4 863.3,887.5 864.0,890.0 864.8,894.7 865.5,898.3 866.3,903.6 867.0,909.8 867.8,911.1 868.6,919.1 869.3,922.6 870.1,928.2 870.8,933.4 871.6,938.8 872.3,943.1 873.1,947.5 873.8,951.4 874.6,953.8 875.4,956.4 876.1,959.6 876.9,963.1 877.6,965.5 878.4,968.4 879.1,970.5 879.9,974.2 880.6,975.0 881.4,977.2 882.2,977.2 882.9,979.2 883.7,980.8 884.4,980.1 885.2,981.7 885.9,981.8 886.7,982.0 887.4,982.5 888.2,983.6 888.9,984.4 889.7,984.6 890.5,984.5 891.2,985.3 892.0,986.1 892.7,987.1 893.5,987.4 894.2,987.8 895.0,988.1 895.7,987.8 896.5,987.8 897.3,987.9 898.0,987.5 898.8,988.1 899.5,988.1 900.3,988.3 901.0,987.9 901.8,988.0 902.5,988.5 903.3,988.4 904.1,988.6 904.8,988.2 905.6,988.5 906.3,988.3 907.1,988.6 907.8,988.5 908.6,988.7 909.3,988.9 910.1,988.8 910.9,988.4 911.6,989.0 912.4,988.9 913.1,988.7 913.9,988.8 914.6,989.0 915.4,989.1 916.1,989.0 916.9,988.8 917.7,989.2 918.4,989.3 919.2,989.7 919.9,989.1 920.7,989.8 921.4,989.7 922.2,989.5 922.9,989.8 923.7,989.6 924.5,989.8 925.2,989.5 926.0,989.7 926.7,989.6 927.5,989.5 928.2,989.8 929.0,989.8 929.7,990.0 930.5,990.2 931.2,990.0 932.0,990.1 932.8,990.1 933.5,989.9 934.3,990.2 935.0,990.3 935.8,990.3 936.5,990.2 937.3,990.2 938.0,990.4 938.8,990.5 939.6,990.7 940.3,990.6 941.1,990.7 941.8,990.5 942.6,990.6 943.3,990.5 944.1,990.6 944.8,990.6 945.6,990.8 946.4,990.5 947.1,990.3 947.9,990.6 948.6,990.4 949.4,990.5 950.1,990.4 950.9,990.4 951.6,990.6 952.4,990.5 953.2,990.4 953.9,990.5 954.7,990.4 955.4,990.5 956.2,990.4 956.9,990.4 957.7,990.4 958.4,990.4 959.2,990.5 960.0,990.3 960.7,990.4 961.5,990.5 962.2,990.7 963.0,990.5 963.7,990.1 964.5,990.4 965.2,990.4 966.0,990.5 966.8,990.6 967.5,990.5 968.3,990.1 969.0,990.5 969.8,990.4 970.5,990.5 971.3,990.6 972.0,990.3 972.8,990.5 973.6,990.2 974.3,990.4 975.1,990.4 975.8,990.7 976.6,990.3 977.3,990.2 978.1,990.5 978.8,990.3 979.6,990.6 980.3,990.3 981.1,990.3 981.9,990.5 982.6,990.4 983.4,990.5 984.1,990.2 984.9,990.6 985.6,990.3 986.4,990.5 987.1,990.2 987.9,990.2 988.7,990.3 989.4,990.4 990.2,990.6 990.9,990.4 991.7,990.4 992.4,990.4 993.2,990.7 993.9,990.2 994.7,990.5 995.5,990.3 996.2,990.4 997.0,990.3 997.7,990.5 998.5,990.2 999.2,990.2 1000.0,990.3 1000.7,990.2 1001.5,990.4 1002.3,990.4 1003.0,990.2 1003.8,990.4 1004.5,990.2 1005.3,990.3 1006.0,990.3 1006.8,990.6 1007.5,990.3 1008.3,990.2 1009.1,990.2 1009.8,990.5 1010.6,990.1 1011.3,990.2 1012.1,990.2 1012.8,990.0 1013.6,990.2 1014.3,990.4 1015.1,990.3 1015.9,990.2 1016.6,990.4 1017.4,990.4 1018.1,990.5 1018.9,990.2 1019.6,990.2 1020.4,990.3 1021.1,990.3 1021.9,990.3 1022.7,990.3 1023.4,990.2 1024.2,990.1 1024.9,990.2 1025.7,990.1 1026.4,990.1 1027.2,990.2 1027.9,990.3 1028.7,990.4 1029.4,990.1 1030.2,990.3 1031.0,990.4 1031.7,990.2 1032.5,990.0 1033.2,989.9 1034.0,990.3 1034.7,990.4 1035.5,990.3 1036.2,990.1 1037.0,990.4 1037.8,990.4 1038.5,990.2 1039.3,990.2 1040.0,990.0 1040.8,990.3 1041.5,990.0 1042.3,990.3 1043.0,990.3 1043.8,990.2 1044.6,990.4 1045.3,990.2 1046.1,990.3 1046.8,990.3 1047.6,990.2 1048.3,990.1 1049.1,990.4 1049.8,990.2 1050.6,990.2 1051.4,990.2 1052.1,990.2 1052.9,990.5 1053.6,990.2 1054.4,990.1 1055.1,990.0 1055.9,990.0 1056.6,989.9 1057.4,990.2 1058.2,990.2 1058.9,990.0 1059.7,990.0 1060.4,990.1 1061.2,990.1 1061.9,990.0 1062.7,990.2 1063.4,990.2 1064.2,990.1 1065.0,990.3 1065.7,990.1 1066.5,990.3 1067.2,990.0 1068.0,990.2 1068.7,990.2 1069.5,990.1 1070.2,990.2 1071.0,990.0 1071.7,989.9 1072.5,990.1 1073.3,990.0 1074.0,990.2 1074.8,990.1 1075.5,990.2 1076.3,990.2 1077.0,990.1 1077.8,990.1 1078.5,990.1 1079.3,990.0 1080.1,990.4 1080.8,989.9 1081.6,990.1 1082.3,990.2 1083.1,990.2 1083.8,990.3 1084.6,990.2 1085.3,989.9 1086.1,990.0 1086.9,989.9 1087.6,990.2 1088.4,990.3 1089.1,990.0 1089.9,990.2 1090.6,990.0 1091.4,989.9 1092.1,990.0 1092.9,989.8 1093.7,990.0 1094.4,990.1 1095.2,990.2 1095.9,990.2 1096.7,990.0 1097.4,990.1 1098.2,990.1 1098.9,990.1 1099.7,989.6 1100.5,989.9 1101.2,990.2 1102.0,989.9 1102.7,990.1 1103.5,990.2 1104.2,989.8 1105.0,990.0 1105.7,990.1 1106.5,990.0 1107.3,989.8 1108.0,990.1 1108.8,989.9 1109.5,990.1 1110.3,990.1 1111.0,989.9 1111.8,990.0 1112.5,989.9 1113.3,989.9 1114.1,989.8 1114.8,990.0 1115.6,990.1 1116.3,990.0 1117.1,990.0 1117.8,989.9 1118.6,989.9 1119.3,990.1 1120.1,989.7 1120.8,990.2 1121.6,989.7 1122.4,990.0 1123.1,989.7 1123.9,989.2 1124.6,989.3 1125.4,989.1 1126.1,989.0 1126.9,989.0 1127.6,988.6 1128.4,988.4 1129.2,988.3 1129.9,988.0 1130.7,988.1 1131.4,988.1 1132.2,988.0 1132.9,987.8 1133.7,987.5 1134.4,987.7 1135.2,986.8 1136.0,987.1 1136.7,987.0 1137.5,987.2 1138.2,987.0 1139.0,986.9 1139.7,986.6 1140.5,986.7 1141.2,986.0 1142.0,986.2 1142.8,985.4 1143.5,986.5 1144.3,986.3 1145.0,985.5 1145.8,985.3 1146.5,984.7 1147.3,984.8 1148.0,985.2 1148.8,985.0 1149.6,984.4 1150.3,984.6 1151.1,984.4 1151.8,984.7 1152.6,984.6 1153.3,984.2 1154.1,984.2 1154.8,984.0 1155.6,983.1 1156.4,983.8 1157.1,983.6 1157.9,983.8 1158.6,982.6 1159.4,983.3 1160.1,981.9 1160.9,981.3 1161.6,980.9 1162.4,978.7 1163.2,977.9 1163.9,978.1 1164.7,976.1 1165.4,975.3 1166.2,975.2 1166.9,973.9 1167.7,973.5 1168.4,972.4 1169.2,971.3 1169.9,971.0 1170.7,970.9 1171.5,968.5 1172.2,965.7 1173.0,961.3 1173.7,956.5 1174.5,952.6 1175.2,947.3 1176.0,943.4 1176.7,940.2 1177.5,935.7 1178.3,929.8 1179.0,917.3 1179.8,908.9 1180.5,898.8 1181.3,889.9 1182.0,873.1 1182.8,850.4 1183.5,834.8 1184.3,813.3 1185.1,794.7 1185.8,780.1 1186.6,760.7 1187.3,745.9 1188.1,727.9 1188.8,710.4 1189.6,693.1 1190.3,670.8 1191.1,654.1 1191.9,637.5 1192.6,618.6 1193.4,595.0 1194.1,586.0 1194.9,569.7 1195.6,549.3 1196.4,534.9 1197.1,524.3 1197.9,502.4 1198.7,490.3 1199.4,477.3 1200.2,462.0 1200.9,447.1 1201.7,433.4 1202.4,414.4 1203.2,400.3 1203.9,396.1 1204.7,372.4 1205.5,363.2 1206.2,353.1 1207.0,337.3 1207.7,335.7 1208.5,318.8 1209.2,313.4 1210.0,283.9 1210.7,303.2 1211.5,296.4 1212.2,275.5 1213.0,289.2 1213.8,277.5 1214.5,280.6 1215.3,287.5 1216.0,272.9 1216.8,263.3 1217.5,271.1 1218.3,260.3 1219.0,263.7 1219.8,263.6 1220.6,263.6 1221.3,278.6 1222.1,275.4 1222.8,260.8 1223.6,277.2 1224.3,253.8 1225.1,262.0 1225.8,266.0 1226.6,276.7 1227.4,272.6 1228.1,270.1 1228.9,276.8 1229.6,271.7 1230.4,276.8 1231.1,258.8 1231.9,251.1 1232.6,261.3 1233.4,271.4 1234.2,266.4 1234.9,271.3 1235.7,269.6 1236.4,267.7 1237.2,269.9 1237.9,257.2 1238.7,273.3 1239.4,257.1 1240.2,264.9 1241.0,252.8 1241.7,270.8 1242.5,256.1 1243.2,283.7 1244.0,268.6 1244.7,287.1 1245.5,290.8 1246.2,293.6 1247.0,314.5 1247.8,318.4 1248.5,339.9 1249.3,342.3 1250.0,356.5 1250.8,365.3 1251.5,386.8 1252.3,400.9 1253.0,413.3 1253.8,427.2 1254.6,439.9 1255.3,465.3 1256.1,475.3 1256.8,482.5 1257.6,502.3 1258.3,510.6 1259.1,538.1 1259.8,554.3 1260.6,567.8 1261.3,578.7 1262.1,592.3 1262.9,609.1 1263.6,633.7 1264.4,649.9 1265.1,670.4 1265.9,689.3 1266.6,707.0 1267.4,726.2 1268.1,744.3 1268.9,757.4 1269.7,773.6 1270.4,787.8 1271.2,801.5 1271.9,815.4 1272.7,832.3 1273.4,844.6 1274.2,859.2 1274.9,871.8 1275.7,884.0 1276.5,896.5 1277.2,911.2 1278.0,923.5 1278.7,940.6 1279.5,949.9 1280.2,952.4 1281.0,957.3 1281.7,958.4 1282.5,962.1 1283.3,964.6 1284.0,967.9 1284.8,970.5 1285.5,974.0 1286.3,977.4 1287.0,978.0 1287.8,978.2 1288.5,980.4 1289.3,980.4 1290.1,981.3 1290.8,981.4 1291.6,982.0 1292.3,981.6 1293.1,979.8 1293.8,980.1 1294.6,979.0 1295.3,978.0 1296.1,978.2 1296.9,978.1 1297.6,976.6 1298.4,976.1 1299.1,977.0 1299.9,975.8 1300.6,975.5 1301.4,974.2 1302.1,973.9 1302.9,973.7 1303.6,973.1 1304.4,972.4 1305.2,972.6 1305.9,971.1 1306.7,969.4 1307.4,969.1 1308.2,969.0 1308.9,969.2 1309.7,967.2 1310.4,966.7 1311.2,966.3 1312.0,965.2 1312.7,964.4 1313.5,964.2 1314.2,964.4 1315.0,963.3 1315.7,962.1 1316.5,962.0 1317.2,959.8 1318.0,960.4 1318.8,959.0 1319.5,957.4 1320.3,954.7 1321.0,956.5 1321.8,951.1 1322.5,951.5 1323.3,950.4 1324.0,950.6 1324.8,947.4 1325.6,947.8 1326.3,946.2 1327.1,943.4 1327.8,941.9 1328.6,939.8 1329.3,936.2 1330.1,932.8 1330.8,927.8 1331.6,929.7 1332.4,924.7 1333.1,919.6 1333.9,920.4 1334.6,921.5 1335.4,917.4 1336.1,914.1 1336.9,920.1 1337.6,915.5 1338.4,913.7 1339.2,914.2 1339.9,904.6 1340.7,909.0 1341.4,907.5 1342.2,913.7 1342.9,903.8 1343.7,903.3 1344.4,899.9 1345.2,901.4 1346.0,903.2 1346.7,904.5 1347.5,902.5 1348.2,910.0 1349.0,904.2 1349.7,904.4 1350.5,906.6 1351.2,903.6 1352.0,899.1 1352.7,895.0 1353.5,901.5 1354.3,896.9 1355.0,904.4 1355.8,896.7 1356.5,891.1 1357.3,899.2 1358.0,902.7 1358.8,897.8 1359.5,899.0 1360.3,898.7 1361.1,904.3 1361.8,898.8 1362.6,897.4 1363.3,895.0 1364.1,891.0 1364.8,902.0 1365.6,900.9 1366.3,892.9 1367.1,898.5 1367.9,897.9 1368.6,895.8 1369.4,896.5 1370.1,900.8 1370.9,894.1 1371.6,897.1 1372.4,899.1 1373.1,899.8 1373.9,899.5 1374.7,901.5 1375.4,903.1 1376.2,898.4 1376.9,902.3 1377.7,900.5 1378.4,908.2 1379.2,898.2 1379.9,902.7 1380.7,906.4 1381.5,903.3 1382.2,903.6 1383.0,903.2 1383.7,906.6 1384.5,901.8 1385.2,906.0 1386.0,906.3 1386.7,902.0 1387.5,908.9 1388.3,908.4 1389.0,913.1 1389.8,917.0 1390.5,917.4 1391.3,914.5 1392.0,921.4 1392.8,917.5 1393.5,922.2 1394.3,931.7 1395.1,929.2 1395.8,936.6 1396.6,934.8 1397.3,938.3 1398.1,938.7 1398.8,946.4 1399.6,947.0 1400.3,951.6 1401.1,954.2 1401.8,957.3 1402.6,959.5 1403.4,961.3 1404.1,963.6 1404.9,965.1 1405.6,966.0 1406.4,970.8 1407.1,974.3 1407.9,975.7 1408.6,978.6 1409.4,979.7 1410.2,979.9 1410.9,980.5 1411.7,981.9 1412.4,982.4 1413.2,982.8 1413.9,983.8 1414.7,983.8 1415.4,984.9 1416.2,985.3 1417.0,986.0 1417.7,987.0 1418.5,987.2 1419.2,988.2 1420.0,988.8 1420.7,988.9 1421.5,989.5 1422.2,988.8 1423.0,989.1 1423.8,989.3 1424.5,988.7 1425.3,989.4 1426.0,989.5 1426.8,989.3 1427.5,989.4 1428.3,989.4 1429.0,989.3 1429.8,989.6 1430.6,989.4 1431.3,989.5 1432.1,989.6 1432.8,989.7 1433.6,989.8 1434.3,989.4 1435.1,989.3 1435.8,989.7 1436.6,989.7 1437.4,989.6 1438.1,989.8 1438.9,989.9 1439.6,989.9 1440.4,990.2 1441.1,989.8 1441.9,990.0 1442.6,990.3 1443.4,990.1 1444.1,989.9 1444.9,990.1 1445.7,990.3 1446.4,990.5 1447.2,990.3 1447.9,990.4 1448.7,990.1 1449.4,990.3 1450.2,990.5 1450.9,990.2 1451.7,990.4 1452.5,990.2 1453.2,990.6 1454.0,990.5 1454.7,990.6 1455.5,990.4 1456.2,990.5 1457.0,990.8 1457.7,990.6 1458.5,990.7 1459.3,990.8 1460.0,990.8 1460.8,990.6 1461.5,990.8 1462.3,990.9 1463.0,990.9 1463.8,991.0 1464.5,991.0 1465.3,991.0" stroke="#ff0000" stroke-width="5.4"/><polyline points="256.7,107.3 257.5,90.8 258.2,102.9 259.0,100.7 259.7,102.6 260.5,109.8 261.2,114.2 262.0,132.0 262.7,137.2 263.5,156.0 264.3,147.7 265.0,148.7 265.8,152.2 266.5,154.0 267.3,155.7 268.0,161.5 268.8,168.1 269.5,168.5 270.3,176.4 271.1,174.5 271.8,178.0 272.6,186.6 273.3,185.3 274.1,183.7 274.8,187.6 275.6,193.1 276.3,201.4 277.1,195.1 277.9,197.8 278.6,205.7 279.4,200.8 280.1,206.2 280.9,213.9 281.6,215.6 282.4,216.4 283.1,221.8 283.9,210.0 284.6,229.1 285.4,223.6 286.2,223.5 286.9,234.7 287.7,239.4 288.4,237.4 289.2,237.5 289.9,245.2 290.7,247.7 291.4,257.0 292.2,256.7 293.0,255.8 293.7,261.4 294.5,257.2 295.2,255.5 296.0,263.8 296.7,265.4 297.5,263.3 298.2,262.3 299.0,268.4 299.8,257.5 300.5,273.7 301.3,274.3 302.0,265.9 302.8,275.4 303.5,272.1 304.3,281.9 305.0,269.8 305.8,276.8 306.6,286.5 307.3,290.3 308.1,275.0 308.8,285.0 309.6,290.8 310.3,287.5 311.1,300.7 311.8,287.3 312.6,297.2 313.4,291.0 314.1,306.1 314.9,299.7 315.6,299.3 316.4,293.1 317.1,314.1 317.9,310.3 318.6,311.9 319.4,315.7 320.2,312.6 320.9,308.3 321.7,308.8 322.4,310.3 323.2,325.1 323.9,309.2 324.7,316.0 325.4,319.2 326.2,324.2 326.9,328.0 327.7,317.8 328.5,316.2 329.2,328.9 330.0,338.4 330.7,336.9 331.5,334.9 332.2,333.0 333.0,338.5 333.7,336.5 334.5,344.9 335.3,335.9 336.0,343.4 336.8,343.3 337.5,349.0 338.3,348.4 339.0,364.9 339.8,359.6 340.5,361.0 341.3,339.7 342.1,352.1 342.8,351.9 343.6,360.7 344.3,344.1 345.1,367.7 345.8,368.5 346.6,354.9 347.3,358.5 348.1,361.2 348.9,368.2 349.6,373.6 350.4,384.1 351.1,371.4 351.9,379.1 352.6,376.8 353.4,388.5 354.1,383.6 354.9,389.1 355.7,375.3 356.4,382.4 357.2,380.1 357.9,396.2 358.7,392.5 359.4,387.6 360.2,387.7 360.9,394.5 361.7,388.1 362.5,387.6 363.2,397.4 364.0,410.8 364.7,394.8 365.5,393.9 366.2,391.0 367.0,391.0 367.7,403.5 368.5,406.5 369.3,402.3 370.0,405.2 370.8,404.9 371.5,406.0 372.3,396.6 373.0,404.1 373.8,408.6 374.5,403.9 375.3,406.7 376.0,405.5 376.8,409.4 377.6,417.6 378.3,410.8 379.1,413.2 379.8,420.1 380.6,419.9 381.3,427.3 382.1,405.0 382.8,423.9 383.6,416.7 384.4,421.3 385.1,426.5 385.9,428.9 386.6,429.5 387.4,425.1 388.1,434.8 388.9,424.2 389.6,426.0 390.4,432.6 391.2,425.3 391.9,442.6 392.7,436.6 393.4,444.4 394.2,431.9 394.9,430.6 395.7,434.7 396.4,438.9 397.2,431.8 398.0,438.4 398.7,436.8 399.5,447.4 400.2,434.6 401.0,445.6 401.7,436.3 402.5,435.2 403.2,437.5 404.0,435.5 404.8,444.3 405.5,450.4 406.3,446.0 407.0,449.5 407.8,456.4 408.5,449.0 409.3,449.4 410.0,447.4 410.8,440.3 411.6,455.2 412.3,441.1 413.1,456.2 413.8,453.0 414.6,460.6 415.3,454.3 416.1,450.7 416.8,458.4 417.6,453.8 418.4,456.9 419.1,459.0 419.9,458.8 420.6,459.3 421.4,456.3 422.1,460.9 422.9,450.2 423.6,462.7 424.4,457.2 425.1,471.3 425.9,472.7 426.7,454.3 427.4,467.1 428.2,466.0 428.9,461.2 429.7,470.9 430.4,465.6 431.2,458.5 431.9,467.7 432.7,468.9 433.5,470.9 434.2,463.6 435.0,474.9 435.7,476.1 436.5,465.7 437.2,469.0 438.0,472.9 438.7,470.5 439.5,484.5 440.3,476.0 441.0,469.5 441.8,471.3 442.5,476.0 443.3,490.2 444.0,476.3 444.8,478.6 445.5,481.3 446.3,478.6 447.1,492.6 447.8,476.8 448.6,484.7 449.3,481.8 450.1,485.0 450.8,475.1 451.6,492.6 452.3,482.2 453.1,483.6 453.9,478.5 454.6,480.2 455.4,488.2 456.1,491.0 456.9,490.1 457.6,493.1 458.4,490.7 459.1,487.2 459.9,492.2 460.7,491.2 461.4,487.7 462.2,492.8 462.9,496.4 463.7,490.8 464.4,487.9 465.2,494.4 465.9,501.6 466.7,490.0 467.4,491.1 468.2,491.2 469.0,499.4 469.7,482.4 470.5,495.3 471.2,500.5 472.0,489.4 472.7,503.0 473.5,498.0 474.2,492.2 475.0,496.9 475.8,487.4 476.5,493.4 477.3,507.4 478.0,492.3 478.8,508.3 479.5,497.8 480.3,504.3 481.0,499.3 481.8,486.8 482.6,496.7 483.3,501.4 484.1,494.2 484.8,493.5 485.6,503.6 486.3,498.3 487.1,492.8 487.8,499.0 488.6,508.1 489.4,501.0 490.1,509.3 490.9,512.7 491.6,504.4 492.4,498.0 493.1,497.1 493.9,504.4 494.6,509.6 495.4,506.3 496.2,508.0 496.9,502.5 497.7,506.8 498.4,502.6 499.2,503.5 499.9,498.2 500.7,496.7 501.4,503.0 502.2,499.5 503.0,500.5 503.7,509.8 504.5,505.5 505.2,522.6 506.0,511.5 506.7,502.9 507.5,510.9 508.2,508.6 509.0,502.9 509.8,513.0 510.5,502.6 511.3,489.9 512.0,511.6 512.8,503.8 513.5,515.7 514.3,503.8 515.0,501.0 515.8,516.1 516.5,502.2 517.3,508.9 518.1,514.9 518.8,507.3 519.6,505.3 520.3,504.9 521.1,506.8 521.8,499.1 522.6,503.3 523.3,502.0 524.1,506.0 524.9,492.9 525.6,486.8 526.4,487.4 527.1,479.5 527.9,477.2 528.6,472.3 529.4,471.1 530.1,460.9 530.9,458.3 531.7,447.2 532.4,449.3 533.2,453.8 533.9,443.6 534.7,440.4 535.4,435.6 536.2,438.2 536.9,435.0 537.7,429.6 538.5,434.5 539.2,432.2 540.0,432.8 540.7,427.3 541.5,433.9 542.2,428.6 543.0,425.9 543.7,423.6 544.5,423.5 545.3,426.9 546.0,423.4 546.8,427.9 547.5,426.4 548.3,429.0 549.0,427.4 549.8,424.7 550.5,418.9 551.3,426.2 552.1,427.9 552.8,426.0 553.6,429.0 554.3,427.8 555.1,430.4 555.8,430.8 556.6,440.4 557.3,438.8 558.1,438.9 558.8,438.4 559.6,444.4 560.4,451.8 561.1,450.8 561.9,447.9 562.6,457.2 563.4,458.8 564.1,458.5 564.9,459.1 565.6,462.2 566.4,460.9 567.2,463.4 567.9,457.0 568.7,470.0 569.4,464.8 570.2,475.9 570.9,455.0 571.7,471.3 572.4,473.8 573.2,467.3 574.0,472.3 574.7,474.6 575.5,474.4 576.2,469.1 577.0,472.0 577.7,479.0 578.5,481.1 579.2,475.4 580.0,476.0 580.8,477.4 581.5,482.6 582.3,472.0 583.0,471.3 583.8,479.8 584.5,473.9 585.3,477.4 586.0,481.8 586.8,484.6 587.6,477.0 588.3,487.8 589.1,474.7 589.8,487.8 590.6,477.2 591.3,479.5 592.1,490.5 592.8,485.6 593.6,484.2 594.4,486.8 595.1,492.4 595.9,490.4 596.6,491.2 597.4,497.7 598.1,489.0 598.9,491.0 599.6,491.4 600.4,501.0 601.2,500.7 601.9,502.9 602.7,496.5 603.4,496.5 604.2,502.5 604.9,496.5 605.7,503.6 606.4,503.6 607.2,496.7 607.9,500.6 608.7,501.1 609.5,511.4 610.2,516.6 611.0,504.5 611.7,507.5 612.5,497.8 613.2,513.2 614.0,514.4 614.7,511.2 615.5,523.2 616.3,514.2 617.0,524.9 617.8,530.5 618.5,527.1 619.3,541.8 620.0,546.7 620.8,537.2 621.5,539.6 622.3,551.3 623.1,548.1 623.8,541.5 624.6,547.3 625.3,548.8 626.1,549.0 626.8,555.3 627.6,553.0 628.3,561.9 629.1,559.9 629.9,556.0 630.6,558.8 631.4,560.6 632.1,557.1 632.9,545.7 633.6,558.6 634.4,554.1 635.1,563.8 635.9,554.8 636.7,557.7 637.4,556.8 638.2,565.3 638.9,556.5 639.7,554.1 640.4,557.9 641.2,554.0 641.9,558.3 642.7,558.0 643.5,560.3 644.2,570.9 645.0,557.6 645.7,560.9 646.5,560.1 647.2,566.0 648.0,555.6 648.7,559.2 649.5,563.8 650.3,567.6 651.0,564.4 651.8,562.0 652.5,560.2 653.3,568.7 654.0,574.6 654.8,568.3 655.5,567.8 656.3,569.6 657.0,561.7 657.8,565.8 658.6,566.4 659.3,570.1 660.1,568.5 660.8,561.8 661.6,576.0 662.3,579.7 663.1,568.4 663.8,572.7 664.6,572.2 665.4,575.6 666.1,562.5 666.9,581.2 667.6,569.2 668.4,579.8 669.1,573.1 669.9,570.7 670.6,572.5 671.4,579.0 672.2,568.9 672.9,572.1 673.7,571.8 674.4,564.8 675.2,583.0 675.9,579.1 676.7,575.9 677.4,583.2 678.2,571.0 679.0,576.5 679.7,587.3 680.5,583.1 681.2,564.3 682.0,558.0 682.7,571.6 683.5,584.2 684.2,575.3 685.0,576.9 685.8,582.0 686.5,573.3 687.3,579.9 688.0,583.5 688.8,581.7 689.5,581.5 690.3,575.8 691.0,582.5 691.8,577.1 692.6,587.4 693.3,595.0 694.1,575.7 694.8,567.5 695.6,577.9 696.3,582.7 697.1,586.8 697.8,587.2 698.6,576.4 699.3,576.5 700.1,588.7 700.9,575.0 701.6,588.0 702.4,580.4 703.1,586.4 703.9,586.2 704.6,586.8 705.4,587.2 706.1,576.7 706.9,584.4 707.7,582.9 708.4,584.8 709.2,590.4 709.9,581.9 710.7,579.5 711.4,579.7 712.2,582.4 712.9,588.8 713.7,579.9 714.5,591.7 715.2,586.9 716.0,584.1 716.7,577.9 717.5,587.3 718.2,590.2 719.0,576.1 719.7,593.6 720.5,596.5 721.3,589.1 722.0,590.2 722.8,601.6 723.5,595.0 724.3,582.9 725.0,588.2 725.8,587.7 726.5,587.9 727.3,575.3 728.1,593.7 728.8,585.8 729.6,590.7 730.3,589.2 731.1,595.3 731.8,588.8 732.6,586.1 733.3,594.1 734.1,599.4 734.9,589.6 735.6,599.7 736.4,593.5 737.1,589.1 737.9,601.3 738.6,587.9 739.4,598.6 740.1,590.0 740.9,595.6 741.7,586.0 742.4,588.4 743.2,599.5 743.9,594.6 744.7,593.9 745.4,591.2 746.2,596.5 746.9,586.0 747.7,587.7 748.4,593.4 749.2,589.6 750.0,590.5 750.7,594.2 751.5,594.0 752.2,593.6 753.0,604.6 753.7,601.0 754.5,602.4 755.2,595.3 756.0,592.6 756.8,587.3 757.5,593.8 758.3,583.9 759.0,592.7 759.8,600.6 760.5,605.6 761.3,601.9 762.0,591.8 762.8,599.4 763.6,592.6 764.3,601.3 765.1,596.5 765.8,601.6 766.6,610.2 767.3,602.0 768.1,608.8 768.8,598.4 769.6,596.1 770.4,603.7 771.1,605.4 771.9,595.2 772.6,598.1 773.4,591.7 774.1,597.0 774.9,601.4 775.6,597.5 776.4,595.6 777.2,592.2 777.9,599.4 778.7,601.2 779.4,600.4 780.2,599.1 780.9,592.9 781.7,605.3 782.4,597.9 783.2,597.6 784.0,601.2 784.7,589.5 785.5,598.0 786.2,597.8 787.0,599.9 787.7,603.8 788.5,600.3 789.2,591.0 790.0,597.1 790.8,599.4 791.5,599.3 792.3,593.7 793.0,592.4 793.8,601.5 794.5,600.8 795.3,599.5 796.0,592.8 796.8,607.1 797.5,588.8 798.3,599.8 799.1,610.4 799.8,602.1 800.6,604.4 801.3,599.6 802.1,610.0 802.8,600.9 803.6,607.3 804.3,607.6 805.1,604.2 805.9,611.8 806.6,608.0 807.4,614.2 808.1,620.0 808.9,622.7 809.6,629.0 810.4,634.0 811.1,634.4 811.9,637.4 812.7,640.6 813.4,644.2 814.2,650.3 814.9,651.6 815.7,658.1 816.4,661.9 817.2,665.0 817.9,674.2 818.7,674.6 819.5,682.1 820.2,692.2 821.0,693.5 821.7,703.3 822.5,707.2 823.2,717.1 824.0,722.3 824.7,732.2 825.5,738.1 826.3,745.3 827.0,754.1 827.8,757.1 828.5,763.7 829.3,768.0 830.0,773.3 830.8,777.9 831.5,781.8 832.3,789.9 833.1,796.7 833.8,798.3 834.6,800.1 835.3,808.0 836.1,807.9 836.8,811.4 837.6,814.1 838.3,818.4 839.1,821.8 839.8,826.3 840.6,823.0 841.4,822.2 842.1,823.5 842.9,824.8 843.6,822.8 844.4,826.6 845.1,828.2 845.9,828.2 846.6,829.2 847.4,826.6 848.2,827.4 848.9,834.0 849.7,835.2 850.4,832.2 851.2,836.7 851.9,837.9 852.7,840.3 853.4,841.2 854.2,841.6 855.0,846.0 855.7,849.4 856.5,852.6 857.2,853.3 858.0,855.0 858.7,862.0 859.5,864.3 860.2,871.7 861.0,876.9 861.8,880.7 862.5,884.4 863.3,889.5 864.0,895.6 864.8,897.6 865.5,904.3 866.3,908.5 867.0,912.8 867.8,919.1 868.6,921.5 869.3,928.3 870.1,931.2 870.8,936.3 871.6,941.0 872.3,947.3 873.1,951.0 873.8,955.1 874.6,956.9 875.4,961.2 876.1,964.4 876.9,965.9 877.6,969.4 878.4,971.3 879.1,974.9 879.9,976.3 880.6,976.9 881.4,979.0 882.2,978.8 882.9,978.9 883.7,979.7 884.4,979.8 885.2,981.0 885.9,981.2 886.7,982.8 887.4,983.1 888.2,982.7 888.9,983.4 889.7,984.3 890.5,984.4 891.2,985.6 892.0,986.2 892.7,986.5 893.5,987.2 894.2,987.8 895.0,988.1 895.7,988.2 896.5,987.9 897.3,988.1 898.0,987.8 898.8,988.1 899.5,987.8 900.3,988.3 901.0,987.8 901.8,988.0 902.5,988.2 903.3,988.4 904.1,988.0 904.8,988.2 905.6,988.5 906.3,988.5 907.1,988.3 907.8,988.6 908.6,988.5 909.3,989.0 910.1,988.8 910.9,988.5 911.6,988.3 912.4,988.9 913.1,989.1 913.9,989.0 914.6,989.2 915.4,988.9 916.1,988.8 916.9,989.3 917.7,989.2 918.4,989.3 919.2,989.0 919.9,989.3 920.7,989.2 921.4,989.6 922.2,989.3 922.9,989.4 923.7,989.4 924.5,989.8 925.2,989.6 926.0,989.6 926.7,989.6 927.5,989.6 928.2,990.1 929.0,989.6 929.7,989.8 930.5,990.1 931.2,990.2 932.0,990.0 932.8,990.2 933.5,990.3 934.3,990.3 935.0,990.3 935.8,990.5 936.5,990.4 937.3,990.6 938.0,990.3 938.8,990.6 939.6,990.4 940.3,990.3 941.1,990.6 941.8,990.4 942.6,990.5 943.3,990.4 944.1,990.7 944.8,990.5 945.6,990.4 946.4,990.5 947.1,990.6 947.9,990.4 948.6,990.5 949.4,990.7 950.1,990.6 950.9,990.5 951.6,990.4 952.4,990.5 953.2,990.3 953.9,990.1 954.7,990.4 955.4,990.3 956.2,990.7 956.9,990.5 957.7,990.3 958.4,990.3 959.2,990.5 960.0,990.4 960.7,990.4 961.5,990.4 962.2,990.5 963.0,990.5 963.7,990.5 964.5,990.6 965.2,990.6 966.0,990.2 966.8,990.7 967.5,990.4 968.3,990.6 969.0,990.3 969.8,990.5 970.5,990.4 971.3,990.4 972.0,990.5 972.8,990.5 973.6,990.3 974.3,990.4 975.1,990.5 975.8,990.5 976.6,990.4 977.3,990.4 978.1,990.4 978.8,990.3 979.6,990.2 980.3,990.6 981.1,990.3 981.9,990.4 982.6,990.3 983.4,990.5 984.1,990.6 984.9,990.4 985.6,990.4 986.4,990.3 987.1,990.6 987.9,990.5 988.7,990.3 989.4,990.5 990.2,990.4 990.9,990.4 991.7,990.4 992.4,990.3 993.2,990.3 993.9,990.4 994.7,990.3 995.5,990.2 996.2,990.6 997.0,990.3 997.7,990.3 998.5,990.3 999.2,990.4 1000.0,990.5 1000.7,990.4 1001.5,990.4 1002.3,990.1 1003.0,990.3 1003.8,990.3 1004.5,990.3 1005.3,990.4 1006.0,990.1 1006.8,990.7 1007.5,990.2 1008.3,990.4 1009.1,990.4 1009.8,990.4 1010.6,990.3 1011.3,989.9 1012.1,990.2 1012.8,990.4 1013.6,990.2 1014.3,990.2 1015.1,990.0 1015.9,990.5 1016.6,990.4 1017.4,990.2 1018.1,990.3 1018.9,990.3 1019.6,990.1 1020.4,990.2 1021.1,990.3 1021.9,990.3 1022.7,990.4 1023.4,990.3 1024.2,990.2 1024.9,990.3 1025.7,990.2 1026.4,990.1 1027.2,990.4 1027.9,990.2 1028.7,990.3 1029.4,990.3 1030.2,990.1 1031.0,990.3 1031.7,990.3 1032.5,990.2 1033.2,990.3 1034.0,990.1 1034.7,989.9 1035.5,990.2 1036.2,990.1 1037.0,990.3 1037.8,990.3 1038.5,990.2 1039.3,990.2 1040.0,990.4 1040.8,990.4 1041.5,990.3 1042.3,990.3 1043.0,990.2 1043.8,990.2 1044.6,990.3 1045.3,990.2 1046.1,990.2 1046.8,990.1 1047.6,990.0 1048.3,990.0 1049.1,990.1 1049.8,990.4 1050.6,990.4 1051.4,990.1 1052.1,990.0 1052.9,990.3 1053.6,990.2 1054.4,990.0 1055.1,990.3 1055.9,990.2 1056.6,990.4 1057.4,990.2 1058.2,990.3 1058.9,990.2 1059.7,990.0 1060.4,990.1 1061.2,990.1 1061.9,990.3 1062.7,990.0 1063.4,989.9 1064.2,990.3 1065.0,990.3 1065.7,990.4 1066.5,990.3 1067.2,989.9 1068.0,990.0 1068.7,990.1 1069.5,990.1 1070.2,989.8 1071.0,990.1 1071.7,990.2 1072.5,990.0 1073.3,990.1 1074.0,990.3 1074.8,990.1 1075.5,990.3 1076.3,990.3 1077.0,990.2 1077.8,990.2 1078.5,990.1 1079.3,990.3 1080.1,990.0 1080.8,990.0 1081.6,990.2 1082.3,990.0 1083.1,990.2 1083.8,990.3 1084.6,990.1 1085.3,990.1 1086.1,990.2 1086.9,990.2 1087.6,989.9 1088.4,989.9 1089.1,990.3 1089.9,990.1 1090.6,989.8 1091.4,989.9 1092.1,990.1 1092.9,989.9 1093.7,990.1 1094.4,990.1 1095.2,990.1 1095.9,989.9 1096.7,990.2 1097.4,990.3 1098.2,989.9 1098.9,990.3 1099.7,990.2 1100.5,990.2 1101.2,990.0 1102.0,989.9 1102.7,989.9 1103.5,990.2 1104.2,990.2 1105.0,990.2 1105.7,990.2 1106.5,990.2 1107.3,990.0 1108.0,989.9 1108.8,990.1 1109.5,990.1 1110.3,990.0 1111.0,989.8 1111.8,989.9 1112.5,989.8 1113.3,990.0 1114.1,989.9 1114.8,990.0 1115.6,990.1 1116.3,990.0 1117.1,990.2 1117.8,989.8 1118.6,989.7 1119.3,990.1 1120.1,990.2 1120.8,990.1 1121.6,989.8 1122.4,989.7 1123.1,989.5 1123.9,989.1 1124.6,989.1 1125.4,989.2 1126.1,988.8 1126.9,989.2 1127.6,988.4 1128.4,988.5 1129.2,988.7 1129.9,988.2 1130.7,987.9 1131.4,987.7 1132.2,987.7 1132.9,988.2 1133.7,987.8 1134.4,987.7 1135.2,987.3 1136.0,987.5 1136.7,987.2 1137.5,986.8 1138.2,986.8 1139.0,986.8 1139.7,987.0 1140.5,986.5 1141.2,986.5 1142.0,986.9 1142.8,985.9 1143.5,985.6 1144.3,986.2 1145.0,985.9 1145.8,985.6 1146.5,985.6 1147.3,985.2 1148.0,985.4 1148.8,985.0 1149.6,985.2 1150.3,984.4 1151.1,984.4 1151.8,984.6 1152.6,984.3 1153.3,984.6 1154.1,984.2 1154.8,983.9 1155.6,984.0 1156.4,983.6 1157.1,983.1 1157.9,983.1 1158.6,983.1 1159.4,982.9 1160.1,982.2 1160.9,981.7 1161.6,980.6 1162.4,980.3 1163.2,979.2 1163.9,977.6 1164.7,977.7 1165.4,976.5 1166.2,974.7 1166.9,974.3 1167.7,973.8 1168.4,972.4 1169.2,972.0 1169.9,970.7 1170.7,970.0 1171.5,968.5 1172.2,965.0 1173.0,960.4 1173.7,957.1 1174.5,951.0 1175.2,948.6 1176.0,945.4 1176.7,940.6 1177.5,935.9 1178.3,929.1 1179.0,918.0 1179.8,908.4 1180.5,899.4 1181.3,890.1 1182.0,873.1 1182.8,851.2 1183.5,835.4 1184.3,811.8 1185.1,794.2 1185.8,778.4 1186.6,764.0 1187.3,743.5 1188.1,723.3 1188.8,712.2 1189.6,694.3 1190.3,672.8 1191.1,653.8 1191.9,635.7 1192.6,618.8 1193.4,601.3 1194.1,579.7 1194.9,575.0 1195.6,553.4 1196.4,537.3 1197.1,525.3 1197.9,508.5 1198.7,500.2 1199.4,481.4 1200.2,461.7 1200.9,446.5 1201.7,431.1 1202.4,416.4 1203.2,404.7 1203.9,387.7 1204.7,383.1 1205.5,365.1 1206.2,352.7 1207.0,345.6 1207.7,318.6 1208.5,311.4 1209.2,309.5 1210.0,297.6 1210.7,289.1 1211.5,284.0 1212.2,268.9 1213.0,268.0 1213.8,253.7 1214.5,246.6 1215.3,271.9 1216.0,253.1 1216.8,254.3 1217.5,271.1 1218.3,267.7 1219.0,253.9 1219.8,253.3 1220.6,256.4 1221.3,248.5 1222.1,260.3 1222.8,256.4 1223.6,255.8 1224.3,260.6 1225.1,259.8 1225.8,268.7 1226.6,265.6 1227.4,238.3 1228.1,259.5 1228.9,242.3 1229.6,239.3 1230.4,256.6 1231.1,244.4 1231.9,247.2 1232.6,258.3 1233.4,243.4 1234.2,241.0 1234.9,250.8 1235.7,257.8 1236.4,251.6 1237.2,233.7 1237.9,241.0 1238.7,246.2 1239.4,264.5 1240.2,256.8 1241.0,257.4 1241.7,264.6 1242.5,256.5 1243.2,268.7 1244.0,277.2 1244.7,275.3 1245.5,290.7 1246.2,302.9 1247.0,302.3 1247.8,325.0 1248.5,337.2 1249.3,350.7 1250.0,356.9 1250.8,372.8 1251.5,390.2 1252.3,400.8 1253.0,410.3 1253.8,428.8 1254.6,447.7 1255.3,458.0 1256.1,474.5 1256.8,496.3 1257.6,503.4 1258.3,518.3 1259.1,530.8 1259.8,547.0 1260.6,568.2 1261.3,578.7 1262.1,591.0 1262.9,610.6 1263.6,632.6 1264.4,654.0 1265.1,669.7 1265.9,692.7 1266.6,706.8 1267.4,725.2 1268.1,741.9 1268.9,758.5 1269.7,772.8 1270.4,789.8 1271.2,804.9 1271.9,815.1 1272.7,831.2 1273.4,845.2 1274.2,859.4 1274.9,871.2 1275.7,884.4 1276.5,898.4 1277.2,910.8 1278.0,924.9 1278.7,939.1 1279.5,950.0 1280.2,951.8 1281.0,955.4 1281.7,957.1 1282.5,962.3 1283.3,964.3 1284.0,967.9 1284.8,970.0 1285.5,973.7 1286.3,976.9 1287.0,979.1 1287.8,978.6 1288.5,980.2 1289.3,980.3 1290.1,980.6 1290.8,981.7 1291.6,981.2 1292.3,980.7 1293.1,980.0 1293.8,979.9 1294.6,979.3 1295.3,978.7 1296.1,977.9 1296.9,977.6 1297.6,977.5 1298.4,977.5 1299.1,976.3 1299.9,976.6 1300.6,975.3 1301.4,974.2 1302.1,974.7 1302.9,973.1 1303.6,973.2 1304.4,973.0 1305.2,971.5 1305.9,971.0 1306.7,971.9 1307.4,969.8 1308.2,969.2 1308.9,968.9 1309.7,967.6 1310.4,967.0 1311.2,966.6 1312.0,964.1 1312.7,966.0 1313.5,963.6 1314.2,963.0 1315.0,963.4 1315.7,962.4 1316.5,960.8 1317.2,961.1 1318.0,958.8 1318.8,957.9 1319.5,956.1 1320.3,955.4 1321.0,955.2 1321.8,953.8 1322.5,952.7 1323.3,952.1 1324.0,950.0 1324.8,948.3 1325.6,947.4 1326.3,947.9 1327.1,943.8 1327.8,941.5 1328.6,938.4 1329.3,936.1 1330.1,933.7 1330.8,930.6 1331.6,927.7 1332.4,924.2 1333.1,921.3 1333.9,921.0 1334.6,920.4 1335.4,919.6 1336.1,916.8 1336.9,913.7 1337.6,915.7 1338.4,914.5 1339.2,908.1 1339.9,912.8 1340.7,911.1 1341.4,913.1 1342.2,903.7 1342.9,901.8 1343.7,908.0 1344.4,898.9 1345.2,902.1 1346.0,900.5 1346.7,900.4 1347.5,896.8 1348.2,902.3 1349.0,906.2 1349.7,903.9 1350.5,903.6 1351.2,900.4 1352.0,906.4 1352.7,902.8 1353.5,904.2 1354.3,894.7 1355.0,901.2 1355.8,895.7 1356.5,900.8 1357.3,900.0 1358.0,895.1 1358.8,899.5 1359.5,902.9 1360.3,900.3 1361.1,900.4 1361.8,895.0 1362.6,895.4 1363.3,893.6 1364.1,897.9 1364.8,901.5 1365.6,898.6 1366.3,896.8 1367.1,892.6 1367.9,898.7 1368.6,896.7 1369.4,891.1 1370.1,892.2 1370.9,897.7 1371.6,896.1 1372.4,905.7 1373.1,900.3 1373.9,897.0 1374.7,899.4 1375.4,907.2 1376.2,898.6 1376.9,905.1 1377.7,904.3 1378.4,908.3 1379.2,905.4 1379.9,902.5 1380.7,906.2 1381.5,904.9 1382.2,908.5 1383.0,905.3 1383.7,912.7 1384.5,905.9 1385.2,908.2 1386.0,904.8 1386.7,907.9 1387.5,908.4 1388.3,910.9 1389.0,915.4 1389.8,912.7 1390.5,913.8 1391.3,922.2 1392.0,919.8 1392.8,920.7 1393.5,928.4 1394.3,929.3 1395.1,921.7 1395.8,931.4 1396.6,937.5 1397.3,940.5 1398.1,940.4 1398.8,947.9 1399.6,946.0 1400.3,950.2 1401.1,953.8 1401.8,956.6 1402.6,960.3 1403.4,962.7 1404.1,963.6 1404.9,967.5 1405.6,967.5 1406.4,970.3 1407.1,974.1 1407.9,975.1 1408.6,977.9 1409.4,979.3 1410.2,980.2 1410.9,980.9 1411.7,981.7 1412.4,982.1 1413.2,982.9 1413.9,983.7 1414.7,984.5 1415.4,984.8 1416.2,985.6 1417.0,986.3 1417.7,986.3 1418.5,986.8 1419.2,988.3 1420.0,988.8 1420.7,989.0 1421.5,989.1 1422.2,988.9 1423.0,988.8 1423.8,989.2 1424.5,988.9 1425.3,989.4 1426.0,989.1 1426.8,989.3 1427.5,989.7 1428.3,989.7 1429.0,989.3 1429.8,989.6 1430.6,989.3 1431.3,989.4 1432.1,989.6 1432.8,989.8 1433.6,989.5 1434.3,989.7 1435.1,989.7 1435.8,989.5 1436.6,989.7 1437.4,990.0 1438.1,989.8 1438.9,989.9 1439.6,990.0 1440.4,989.8 1441.1,990.1 1441.9,990.2 1442.6,990.2 1443.4,990.2 1444.1,990.0 1444.9,990.0 1445.7,990.0 1446.4,990.0 1447.2,990.1 1447.9,990.4 1448.7,990.5 1449.4,990.2 1450.2,990.4 1450.9,990.2 1451.7,990.4 1452.5,990.3 1453.2,990.3 1454.0,990.5 1454.7,990.5 1455.5,990.5 1456.2,990.6 1457.0,990.5 1457.7,990.7 1458.5,990.7 1459.3,990.8 1460.0,990.7 1460.8,990.8 1461.5,990.9 1462.3,991.0 1463.0,991.0 1463.8,991.0 1464.5,990.9 1465.3,990.9" stroke="#0000ff" stroke-width="5.4"/></g><rect x="1303" y="859.5" width="112.5" height="97.5" fill="rgba(205,205,205,0.28)" stroke="#c8c8c8" stroke-width="2"/><g stroke="#000" stroke-width="3.6" fill="none" stroke-linecap="butt"><line x1="256.9" y1="37.2" x2="256.9" y2="1023.5"/><line x1="1465.3" y1="37.2" x2="1465.3" y2="1023.5"/><line x1="255.1" y1="39" x2="1467.1" y2="39"/><line x1="255.1" y1="1015" x2="1467.1" y2="1015"/><line x1="237.5" y1="991.2" x2="256.9" y2="991.2"/><line x1="247.3" y1="875.2" x2="256.9" y2="875.2"/><line x1="237.5" y1="759.2" x2="256.9" y2="759.2"/><line x1="247.3" y1="643.1" x2="256.9" y2="643.1"/><line x1="237.5" y1="527.1" x2="256.9" y2="527.1"/><line x1="247.3" y1="411.1" x2="256.9" y2="411.1"/><line x1="237.5" y1="295.1" x2="256.9" y2="295.1"/><line x1="247.3" y1="179.0" x2="256.9" y2="179.0"/><line x1="237.5" y1="63.0" x2="256.9" y2="63.0"/><line x1="407.8" y1="1015" x2="407.8" y2="1033"/><line x1="558.8" y1="1015" x2="558.8" y2="1024"/><line x1="709.9" y1="1015" x2="709.9" y2="1033"/><line x1="861.0" y1="1015" x2="861.0" y2="1024"/><line x1="1012.1" y1="1015" x2="1012.1" y2="1033"/><line x1="1163.2" y1="1015" x2="1163.2" y2="1024"/><line x1="1314.2" y1="1015" x2="1314.2" y2="1033"/></g><text transform="translate(223.2,82.3) scale(1,1.025)" font-size="64.3" text-anchor="end" >8.0k</text><text transform="translate(223.2,314.4) scale(1,1.025)" font-size="64.3" text-anchor="end" >6.0k</text><text transform="translate(223.2,546.4) scale(1,1.025)" font-size="64.3" text-anchor="end" >4.0k</text><text transform="translate(223.2,778.5) scale(1,1.025)" font-size="64.3" text-anchor="end" >2.0k</text><text transform="translate(223.2,1010.5) scale(1,1.025)" font-size="64.3" text-anchor="end" >0.0</text><text transform="translate(407.0,1098.7) scale(1,1.07)" font-size="65" text-anchor="middle" >200</text><text transform="translate(709.1,1098.7) scale(1,1.07)" font-size="65" text-anchor="middle" >400</text><text transform="translate(1011.3,1098.7) scale(1,1.07)" font-size="65" text-anchor="middle" >600</text><text transform="translate(1313.4,1098.7) scale(1,1.07)" font-size="65" text-anchor="middle" >800</text><text x="740.5" y="1200.7" font-size="64.4" text-anchor="start" >Channel</text><text transform="translate(78.8,527) rotate(-90)" font-size="65.3" text-anchor="middle">Yield (courts)</text><text x="267.6" y="87.9" font-size="49.9" text-anchor="start" >200</text><circle cx="362.2" cy="55.7" r="3.6" fill="none" stroke="#1a1a1a" stroke-width="1.5"/><path d="M395.5,64.8 A13.4,17.1 0 1 0 393.8,79.2" fill="none" stroke="#1a1a1a" stroke-width="2.3"/><rect x="403.8" y="73.3" width="15" height="3.9" fill="#000"/><text x="434.2" y="87.9" font-size="50.6" text-anchor="start" >deposited SZO with high dose</text><g stroke-linecap="round"><line x1="372" y1="137.7" x2="473.5" y2="137.7" stroke="#000" stroke-width="8"/><line x1="371.5" y1="204.3" x2="473.5" y2="204.3" stroke="#ff0000" stroke-width="5.4"/><line x1="371.5" y1="277.1" x2="473.5" y2="277.1" stroke="#0000ff" stroke-width="5"/></g><text x="487.3" y="152.3" font-size="45.5" text-anchor="start" >As implanted</text><text x="485.0" y="219.3" font-size="47.2" text-anchor="start" >RTA 800</text><circle cx="688.4" cy="190.3" r="3.2" fill="none" stroke="#1a1a1a" stroke-width="1.5"/><path d="M718.0,198.5 A12.0,14.9 0 1 0 716.1,211.8" fill="none" stroke="#1a1a1a" stroke-width="2.2"/><text x="739.8" y="219.3" font-size="45.3" text-anchor="start" >1min O<tspan font-size="31.8" dy="13">2</tspan></text><text x="484.7" y="292.0" font-size="46" text-anchor="start" >FLA 97.9 J/cm<tspan font-size="32" dx="1.5" dy="-18.5">2</tspan><tspan dy="18.5"> 23ms O</tspan><tspan font-size="32" dy="13">2</tspan></text><text x="444.8" y="396.2" font-size="50.9" text-anchor="start" >O from SiO<tspan font-size="35.6" dy="13">2</tspan></text><text x="662.1" y="464.3" font-size="50.8" text-anchor="start" >O from ZnO</text><text x="780.3" y="575.9" font-size="50" text-anchor="start" >Si</text><text x="840.1" y="676.3" font-size="50.7" text-anchor="start" >Si from SiO<tspan font-size="35.5" dy="13">2</tspan></text><text x="1204.5" y="181.1" font-size="50.9" text-anchor="start" >Zn</text><text x="1330.7" y="824.4" font-size="51" text-anchor="start" >Sb</text><line x1="483.4" y1="399.4" x2="512.3" y2="422.4" stroke="#555" stroke-width="1.6"/><polygon points="528.7,435.5 507.3,425.5 514.1,416.9" fill="#000"/><line x1="656.6" y1="474.9" x2="637.3" y2="485.3" stroke="#555" stroke-width="1.6"/><polygon points="618.8,495.2 636.5,479.5 641.7,489.2" fill="#000"/><line x1="912.7" y1="695.6" x2="862.1" y2="802.4" stroke="#777" stroke-width="1.4"/><polygon points="851.8,824.1 857.5,798.0 868.4,803.2" fill="#000"/><g stroke="#333" stroke-width="2" fill="none"><line x1="366" y1="528.9" x2="366" y2="956.6"/><line x1="365" y1="955.6" x2="824.5" y2="955.6"/><line x1="361.4" y1="938.0" x2="366" y2="938.0"/><line x1="358.8" y1="893.3" x2="366" y2="893.3"/><line x1="361.4" y1="848.6" x2="366" y2="848.6"/><line x1="358.8" y1="803.9" x2="366" y2="803.9"/><line x1="361.4" y1="759.2" x2="366" y2="759.2"/><line x1="358.8" y1="714.5" x2="366" y2="714.5"/><line x1="361.4" y1="669.8" x2="366" y2="669.8"/><line x1="358.8" y1="625.1" x2="366" y2="625.1"/><line x1="361.4" y1="580.4" x2="366" y2="580.4"/><line x1="358.8" y1="535.7" x2="366" y2="535.7"/><line x1="423.4" y1="955.6" x2="423.4" y2="961"/><line x1="480.8" y1="955.6" x2="480.8" y2="959.5"/><line x1="538.2" y1="955.6" x2="538.2" y2="961"/><line x1="595.6" y1="955.6" x2="595.6" y2="959.5"/><line x1="653.0" y1="955.6" x2="653.0" y2="961"/><line x1="710.4" y1="955.6" x2="710.4" y2="959.5"/><line x1="767.8" y1="955.6" x2="767.8" y2="961"/><line x1="825.2" y1="955.6" x2="825.2" y2="959.5"/></g><text transform="translate(352.0,906.9) scale(1,1.085)" font-size="41.8" text-anchor="end" >200</text><text transform="translate(352.0,817.5) scale(1,1.085)" font-size="41.8" text-anchor="end" >400</text><text transform="translate(352.0,728.1) scale(1,1.085)" font-size="41.8" text-anchor="end" >600</text><text transform="translate(352.0,638.7) scale(1,1.085)" font-size="41.8" text-anchor="end" >800</text><text transform="translate(352.0,549.3) scale(1,1.085)" font-size="41.1" text-anchor="end" >1000</text><text transform="translate(422.8,1000.0) scale(1,1.085)" font-size="41.8" text-anchor="middle" >800</text><text transform="translate(537.6,1000.0) scale(1,1.085)" font-size="41.8" text-anchor="middle" >820</text><text transform="translate(652.4,1000.0) scale(1,1.085)" font-size="41.8" text-anchor="middle" >840</text><text transform="translate(767.2,1000.0) scale(1,1.085)" font-size="41.8" text-anchor="middle" >860</text><g clip-path="url(#cpi)" fill="none" stroke-width="3.4" stroke-linejoin="round"><polyline points="366.3,922.6 377.5,931.6 382.6,911.0 398.0,898.1 404.5,893.0 413.5,891.7 421.2,880.1 432.8,872.4 444.4,862.1 452.1,851.8 463.7,836.4 470.0,821.0 476.3,800.0 484.4,796.4 490.8,780.3 498.9,770.6 503.7,757.7 508.5,728.8 513.4,732.0 519.8,732.0 526.2,699.8 532.7,732.0 543.9,678.9 550.4,674.0 556.8,659.6 566.5,664.4 571.3,654.7 576.1,658.0 582.0,640.0 595.4,623.6 600.8,595.7 606.1,612.9 613.6,616.1 619.0,628.0 626.5,583.9 629.7,581.8 635.1,611.8 641.5,590.4 647.9,602.2 654.4,616.1 660.8,618.3 665.1,614.0 670.5,618.3 675.8,610.8 681.2,615.0 686.5,605.4 693.0,630.0 698.3,635.4 704.8,655.8 710.1,675.1 720.0,696.5 724.7,704.7 732.0,737.3 739.2,740.9 746.4,791.6 757.3,842.2 764.5,845.8 775.4,896.5 782.6,929.0 797.0,962.0" stroke="#000"/><polyline points="366.3,923.9 371.0,930.3 378.7,918.7 390.3,918.7 395.5,905.9 403.2,903.3 417.4,882.7 426.0,878.0 435.4,881.4 440.5,846.6 449.5,850.5 462.4,815.8 469.0,808.0 471.5,800.0 482.8,773.8 490.8,754.5 497.3,736.8 502.1,698.2 508.5,695.0 515.0,680.5 521.4,675.7 526.2,661.2 531.1,622.5 537.5,656.3 543.9,638.6 553.6,654.7 562.0,650.0 571.3,643.5 583.6,621.5 591.1,648.3 600.8,651.5 607.2,645.1 615.8,634.3 626.5,656.9 635.1,639.7 641.5,620.4 647.9,645.1 653.3,616.1 663.0,655.8 672.6,654.7 688.7,660.1 699.4,688.0 703.7,674.0 710.0,700.0 716.0,722.0 721.1,733.7 732.0,766.2 742.8,798.8 753.7,845.8 768.1,882.0 779.0,921.8 790.0,962.0" stroke="#ff0000"/><polyline points="366.3,918.7 373.6,917.5 378.7,920.0 383.2,911.0 391.6,914.9 401.0,898.0 410.9,884.0 417.4,887.9 422.5,877.5 429.0,882.7 436.7,872.4 445.7,846.6 452.1,845.4 459.9,832.5 470.0,812.0 474.7,800.0 481.2,770.6 486.0,754.5 492.4,752.9 497.3,706.2 503.7,732.0 508.5,703.0 515.0,709.5 519.8,683.7 526.2,686.9 532.7,667.6 537.5,659.6 548.8,672.4 560.0,627.4 566.5,651.5 572.9,646.7 582.5,626.8 589.0,631.1 596.5,627.9 606.1,645.1 612.5,621.5 617.9,629.0 624.3,608.6 635.1,647.2 645.8,620.4 652.2,621.5 658.7,663.3 669.4,636.5 678.0,655.8 688.7,657.9 698.3,653.6 702.6,655.8 708.0,688.0 712.0,705.0 718.0,725.0 728.3,751.7 735.6,784.3 742.8,791.6 757.3,845.8 768.1,878.4 779.0,921.8 792.0,962.0" stroke="#0000ff"/></g><text x="686.5" y="655" font-size="11" fill="#333">1</text><line x1="1299.0" y1="936.8" x2="802.5" y2="859.1" stroke="#000" stroke-width="3.4"/><polygon points="772.9,854.5 805.8,851.5 803.3,867.3" fill="#000"/></svg>
</body></html>
